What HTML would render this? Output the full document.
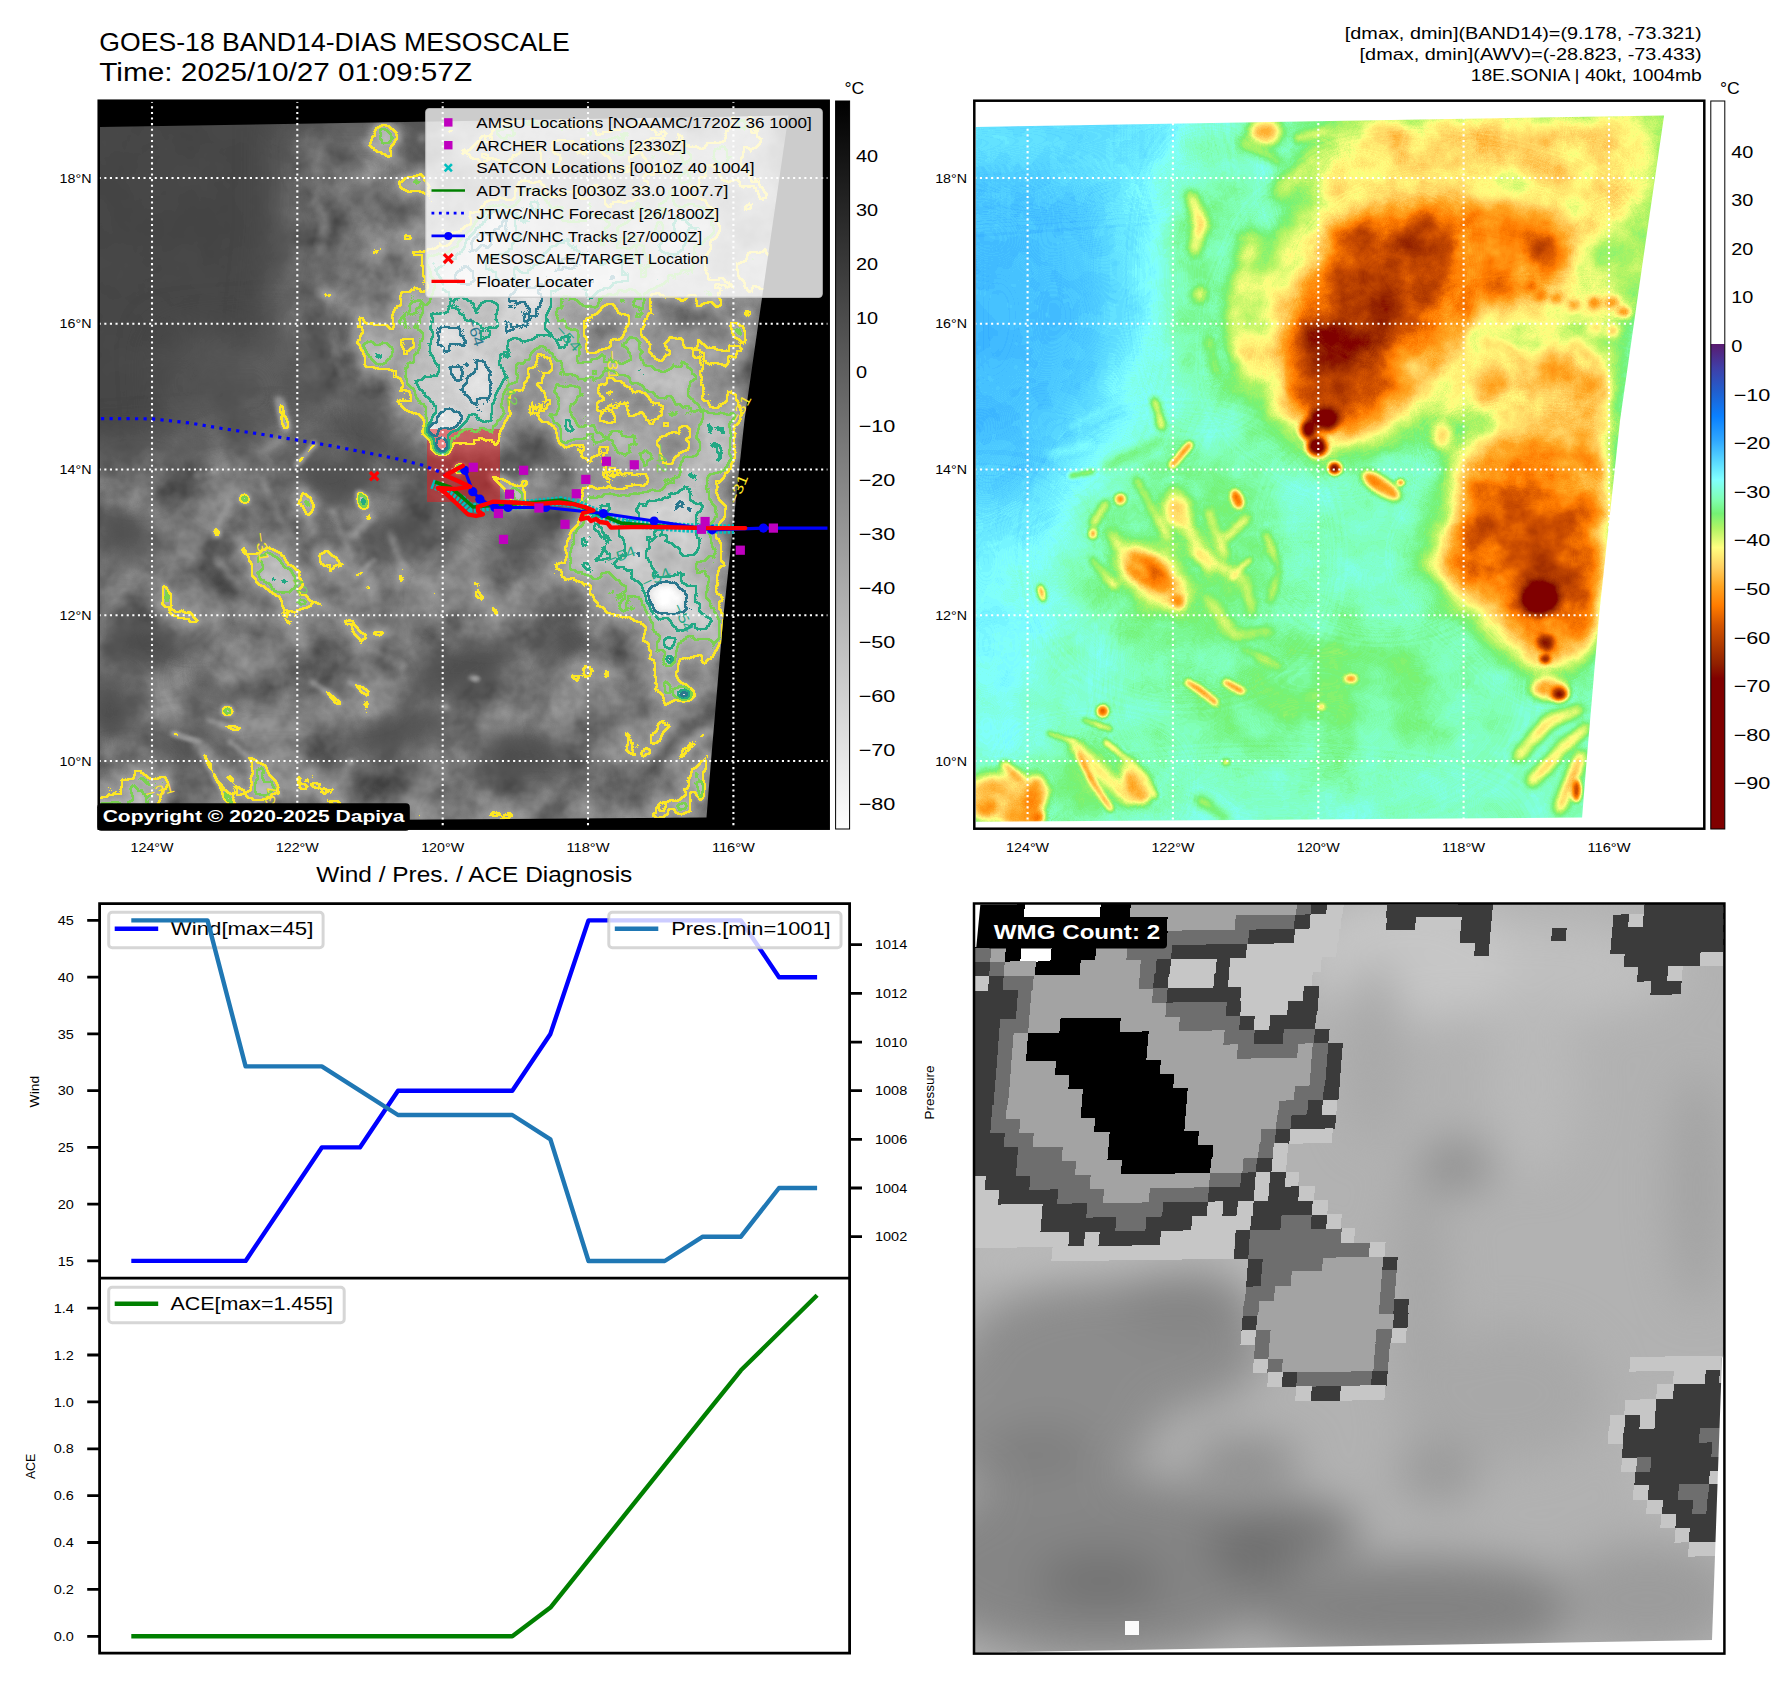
<!DOCTYPE html>
<html><head><meta charset="utf-8"><title>GOES-18 BAND14-DIAS MESOSCALE</title>
<style>html,body{margin:0;padding:0;background:#fff}svg{display:block}text{font-family:"Liberation Sans",sans-serif}</style></head><body>
<svg width="1792" height="1690" viewBox="0 0 1792 1690">
<rect width="1792" height="1690" fill="#fff"/>
<defs>
<filter id="b2" filterUnits="userSpaceOnUse" x="40" y="60" width="850" height="830" color-interpolation-filters="sRGB"><feGaussianBlur stdDeviation="2"/></filter>
<filter id="b3" filterUnits="userSpaceOnUse" x="40" y="60" width="850" height="830" color-interpolation-filters="sRGB"><feGaussianBlur stdDeviation="3"/></filter>
<filter id="b4" filterUnits="userSpaceOnUse" x="40" y="60" width="850" height="830" color-interpolation-filters="sRGB"><feGaussianBlur stdDeviation="4"/></filter>
<filter id="b5" filterUnits="userSpaceOnUse" x="40" y="60" width="850" height="830" color-interpolation-filters="sRGB"><feGaussianBlur stdDeviation="5"/></filter>
<filter id="b6" filterUnits="userSpaceOnUse" x="40" y="60" width="850" height="830" color-interpolation-filters="sRGB"><feGaussianBlur stdDeviation="6"/></filter>
<filter id="b8" filterUnits="userSpaceOnUse" x="40" y="60" width="850" height="830" color-interpolation-filters="sRGB"><feGaussianBlur stdDeviation="8"/></filter>
<filter id="b10" filterUnits="userSpaceOnUse" x="40" y="60" width="850" height="830" color-interpolation-filters="sRGB"><feGaussianBlur stdDeviation="10"/></filter>
<filter id="b12" filterUnits="userSpaceOnUse" x="40" y="60" width="850" height="830" color-interpolation-filters="sRGB"><feGaussianBlur stdDeviation="12"/></filter>
<filter id="b15" filterUnits="userSpaceOnUse" x="40" y="60" width="850" height="830" color-interpolation-filters="sRGB"><feGaussianBlur stdDeviation="15"/></filter>
<filter id="b18" filterUnits="userSpaceOnUse" x="40" y="60" width="850" height="830" color-interpolation-filters="sRGB"><feGaussianBlur stdDeviation="18"/></filter>
<filter id="b22" filterUnits="userSpaceOnUse" x="40" y="60" width="850" height="830" color-interpolation-filters="sRGB"><feGaussianBlur stdDeviation="22"/></filter>
<filter id="b26" filterUnits="userSpaceOnUse" x="40" y="60" width="850" height="830" color-interpolation-filters="sRGB"><feGaussianBlur stdDeviation="26"/></filter>
<filter id="b30" filterUnits="userSpaceOnUse" x="40" y="60" width="850" height="830" color-interpolation-filters="sRGB"><feGaussianBlur stdDeviation="30"/></filter>
<filter id="b36" filterUnits="userSpaceOnUse" x="40" y="60" width="850" height="830" color-interpolation-filters="sRGB"><feGaussianBlur stdDeviation="36"/></filter>
<filter id="b45" filterUnits="userSpaceOnUse" x="40" y="60" width="850" height="830" color-interpolation-filters="sRGB"><feGaussianBlur stdDeviation="45"/></filter>
<filter id="b60" filterUnits="userSpaceOnUse" x="40" y="60" width="850" height="830" color-interpolation-filters="sRGB"><feGaussianBlur stdDeviation="60"/></filter>
<filter id="cm1" filterUnits="userSpaceOnUse" x="40" y="60" width="850" height="830" color-interpolation-filters="sRGB"><feTurbulence type="fractalNoise" baseFrequency="0.02" numOctaves="4" seed="7" result="n"/><feColorMatrix in="n" type="matrix" values="1 0 0 0 0 1 0 0 0 0 1 0 0 0 0 0 0 0 0 1" result="n2"/><feComponentTransfer in="SourceGraphic" result="m"><feFuncR type="table" tableValues="0 0 0 0.12 0.9 1 0.8 0.6 0.5 0.5 0.5"/><feFuncG type="table" tableValues="0 0 0 0.12 0.9 1 0.8 0.6 0.5 0.5 0.5"/><feFuncB type="table" tableValues="0 0 0 0.12 0.9 1 0.8 0.6 0.5 0.5 0.5"/></feComponentTransfer><feComposite in="m" in2="n2" operator="arithmetic" k1="0.55" k2="-0.275" k3="0" k4="0.5" result="p"/><feComposite in="SourceGraphic" in2="p" operator="arithmetic" k1="0" k2="1" k3="1" k4="-0.5" result="f"/><feComponentTransfer in="f"><feFuncR type="linear" slope="1.111"/><feFuncG type="linear" slope="1.111"/><feFuncB type="linear" slope="1.111"/></feComponentTransfer></filter>
<filter id="cm2" filterUnits="userSpaceOnUse" x="40" y="60" width="850" height="830" color-interpolation-filters="sRGB"><feTurbulence type="fractalNoise" baseFrequency="0.025" numOctaves="4" seed="11" result="n"/><feColorMatrix in="n" type="matrix" values="1 0 0 0 0 1 0 0 0 0 1 0 0 0 0 0 0 0 0 1" result="n2"/><feComponentTransfer in="SourceGraphic" result="m"><feFuncR type="table" tableValues="0 0 0 0.1 0.1 0.14 0.55 1 1 1 1"/><feFuncG type="table" tableValues="0 0 0 0.1 0.1 0.14 0.55 1 1 1 1"/><feFuncB type="table" tableValues="0 0 0 0.1 0.1 0.14 0.55 1 1 1 1"/></feComponentTransfer><feComposite in="m" in2="n2" operator="arithmetic" k1="0.12" k2="-0.06" k3="0" k4="0.5" result="p"/><feComposite in="SourceGraphic" in2="p" operator="arithmetic" k1="0" k2="1" k3="1" k4="-0.5" result="f"/><feComponentTransfer in="f"><feFuncR type="table" tableValues="1.000 1.000 1.000 1.000 1.000 1.000 1.000 1.000 1.000 1.000 1.000 1.000 1.000 1.000 1.000 1.000 1.000 1.000 1.000 1.000 1.000 1.000 1.000 1.000 1.000 1.000 1.000 1.000 1.000 1.000 1.000 1.000 1.000 1.000 1.000 1.000 1.000 1.000 1.000 1.000 1.000 1.000 1.000 1.000 1.000 1.000 1.000 1.000 1.000 1.000 0.353 0.332 0.311 0.289 0.268 0.247 0.223 0.198 0.174 0.150 0.125 0.108 0.091 0.074 0.056 0.039 0.069 0.099 0.129 0.158 0.188 0.226 0.264 0.301 0.339 0.376 0.418 0.460 0.502 0.502 0.502 0.502 0.502 0.486 0.471 0.455 0.533 0.612 0.690 0.768 0.845 0.923 1.000 1.000 1.000 1.000 1.000 1.000 1.000 1.000 1.000 1.000 1.000 1.000 1.000 0.958 0.916 0.874 0.831 0.796 0.761 0.725 0.690 0.659 0.627 0.596 0.565 0.544 0.523 0.502 0.502 0.502 0.502 0.502 0.502 0.502 0.502 0.502 0.502 0.502 0.502 0.502 0.502 0.502 0.502 0.502 0.502 0.502 0.502 0.502 0.502 0.502 0.502 0.502 0.502 0.502 0.502 0.502 0.502 0.502 0.502"/><feFuncG type="table" tableValues="1.000 1.000 1.000 1.000 1.000 1.000 1.000 1.000 1.000 1.000 1.000 1.000 1.000 1.000 1.000 1.000 1.000 1.000 1.000 1.000 1.000 1.000 1.000 1.000 1.000 1.000 1.000 1.000 1.000 1.000 1.000 1.000 1.000 1.000 1.000 1.000 1.000 1.000 1.000 1.000 1.000 1.000 1.000 1.000 1.000 1.000 1.000 1.000 1.000 1.000 0.102 0.131 0.160 0.189 0.218 0.247 0.273 0.299 0.325 0.351 0.376 0.402 0.427 0.452 0.477 0.502 0.533 0.565 0.596 0.627 0.659 0.703 0.747 0.791 0.835 0.878 0.919 0.959 1.000 1.000 1.000 1.000 1.000 0.983 0.966 0.949 0.952 0.954 0.957 0.968 0.978 0.989 1.000 0.954 0.908 0.862 0.816 0.773 0.729 0.686 0.643 0.604 0.565 0.525 0.486 0.447 0.408 0.369 0.329 0.304 0.278 0.253 0.227 0.202 0.176 0.151 0.125 0.084 0.042 0.000 0.000 0.000 0.000 0.000 0.000 0.000 0.000 0.000 0.000 0.000 0.000 0.000 0.000 0.000 0.000 0.000 0.000 0.000 0.000 0.000 0.000 0.000 0.000 0.000 0.000 0.000 0.000 0.000 0.000 0.000 0.000"/><feFuncB type="table" tableValues="1.000 1.000 1.000 1.000 1.000 1.000 1.000 1.000 1.000 1.000 1.000 1.000 1.000 1.000 1.000 1.000 1.000 1.000 1.000 1.000 1.000 1.000 1.000 1.000 1.000 1.000 1.000 1.000 1.000 1.000 1.000 1.000 1.000 1.000 1.000 1.000 1.000 1.000 1.000 1.000 1.000 1.000 1.000 1.000 1.000 1.000 1.000 1.000 1.000 1.000 0.431 0.477 0.522 0.568 0.613 0.659 0.690 0.722 0.753 0.784 0.816 0.853 0.889 0.926 0.963 1.000 1.000 1.000 1.000 1.000 1.000 1.000 1.000 1.000 1.000 1.000 1.000 1.000 1.000 0.926 0.853 0.779 0.706 0.622 0.539 0.455 0.434 0.413 0.392 0.420 0.447 0.475 0.502 0.471 0.439 0.408 0.376 0.314 0.251 0.188 0.125 0.094 0.063 0.031 0.000 0.000 0.000 0.000 0.000 0.000 0.000 0.000 0.000 0.000 0.000 0.000 0.000 0.000 0.000 0.000 0.000 0.000 0.000 0.000 0.000 0.000 0.000 0.000 0.000 0.000 0.000 0.000 0.000 0.000 0.000 0.000 0.000 0.000 0.000 0.000 0.000 0.000 0.000 0.000 0.000 0.000 0.000 0.000 0.000 0.000 0.000"/></feComponentTransfer></filter>
<filter id="ct31" filterUnits="userSpaceOnUse" x="40" y="60" width="850" height="830" color-interpolation-filters="sRGB"><feTurbulence type="fractalNoise" baseFrequency="0.02" numOctaves="4" seed="7" result="n"/><feColorMatrix in="n" type="matrix" values="1 0 0 0 0 1 0 0 0 0 1 0 0 0 0 0 0 0 0 1" result="n2"/><feComponentTransfer in="SourceGraphic" result="m"><feFuncR type="table" tableValues="0 0 0 0.12 0.9 1 0.8 0.6 0.5 0.5 0.5"/><feFuncG type="table" tableValues="0 0 0 0.12 0.9 1 0.8 0.6 0.5 0.5 0.5"/><feFuncB type="table" tableValues="0 0 0 0.12 0.9 1 0.8 0.6 0.5 0.5 0.5"/></feComponentTransfer><feComposite in="m" in2="n2" operator="arithmetic" k1="0.55" k2="-0.275" k3="0" k4="0.5" result="p"/><feComposite in="SourceGraphic" in2="p" operator="arithmetic" k1="0" k2="1" k3="1" k4="-0.5" result="f"/><feColorMatrix in="f" type="matrix" values="0 0 0 0 0.992 0 0 0 0 0.906 0 0 0 0 0.145 1 0 0 0 0" result="a"/><feComponentTransfer in="a" result="s"><feFuncA type="discrete" tableValues="0 0 0 0 0 0 0 0 0 0 0 0 0 0 0 0 0 0 0 0 0 0 0 0 0 0 0 0 0 0 0 0 0 0 0 0 0 0 0 0 0 0 0 0 0 0 0 0 0 0 0 0 0 0 0 0 0 0 0 0 0 0 0 0 0 0 0 0 0 0 0 0 0 0 0 0 0 0 0 0 0 1 1 1 1 1 1 1 1 1 1 1 1 1 1 1 1 1 1 1 1 1 1 1 1 1 1 1 1 1 1 1 1 1 1 1 1 1 1 1 1 1 1 1 1 1 1 1 1 1 1 1 1 1 1 1 1 1 1 1 1 1 1 1 1 1 1 1 1 1"/></feComponentTransfer><feMorphology in="s" operator="erode" radius="2" result="e"/><feComposite in="s" in2="e" operator="out"/></filter>
<filter id="ct42" filterUnits="userSpaceOnUse" x="40" y="60" width="850" height="830" color-interpolation-filters="sRGB"><feTurbulence type="fractalNoise" baseFrequency="0.02" numOctaves="4" seed="7" result="n"/><feColorMatrix in="n" type="matrix" values="1 0 0 0 0 1 0 0 0 0 1 0 0 0 0 0 0 0 0 1" result="n2"/><feComponentTransfer in="SourceGraphic" result="m"><feFuncR type="table" tableValues="0 0 0 0.12 0.9 1 0.8 0.6 0.5 0.5 0.5"/><feFuncG type="table" tableValues="0 0 0 0.12 0.9 1 0.8 0.6 0.5 0.5 0.5"/><feFuncB type="table" tableValues="0 0 0 0.12 0.9 1 0.8 0.6 0.5 0.5 0.5"/></feComponentTransfer><feComposite in="m" in2="n2" operator="arithmetic" k1="0.55" k2="-0.275" k3="0" k4="0.5" result="p"/><feComposite in="SourceGraphic" in2="p" operator="arithmetic" k1="0" k2="1" k3="1" k4="-0.5" result="f"/><feColorMatrix in="f" type="matrix" values="0 0 0 0 0.478 0 0 0 0 0.820 0 0 0 0 0.318 1 0 0 0 0" result="a"/><feComponentTransfer in="a" result="s"><feFuncA type="discrete" tableValues="0 0 0 0 0 0 0 0 0 0 0 0 0 0 0 0 0 0 0 0 0 0 0 0 0 0 0 0 0 0 0 0 0 0 0 0 0 0 0 0 0 0 0 0 0 0 0 0 0 0 0 0 0 0 0 0 0 0 0 0 0 0 0 0 0 0 0 0 0 0 0 0 0 0 0 0 0 0 0 0 0 0 0 0 0 0 0 0 0 0 0 0 1 1 1 1 1 1 1 1 1 1 1 1 1 1 1 1 1 1 1 1 1 1 1 1 1 1 1 1 1 1 1 1 1 1 1 1 1 1 1 1 1 1 1 1 1 1 1 1 1 1 1 1 1 1 1 1 1 1"/></feComponentTransfer><feMorphology in="s" operator="erode" radius="2" result="e"/><feComposite in="s" in2="e" operator="out"/></filter>
<filter id="ct54" filterUnits="userSpaceOnUse" x="40" y="60" width="850" height="830" color-interpolation-filters="sRGB"><feTurbulence type="fractalNoise" baseFrequency="0.02" numOctaves="4" seed="7" result="n"/><feColorMatrix in="n" type="matrix" values="1 0 0 0 0 1 0 0 0 0 1 0 0 0 0 0 0 0 0 1" result="n2"/><feComponentTransfer in="SourceGraphic" result="m"><feFuncR type="table" tableValues="0 0 0 0.12 0.9 1 0.8 0.6 0.5 0.5 0.5"/><feFuncG type="table" tableValues="0 0 0 0.12 0.9 1 0.8 0.6 0.5 0.5 0.5"/><feFuncB type="table" tableValues="0 0 0 0.12 0.9 1 0.8 0.6 0.5 0.5 0.5"/></feComponentTransfer><feComposite in="m" in2="n2" operator="arithmetic" k1="0.55" k2="-0.275" k3="0" k4="0.5" result="p"/><feComposite in="SourceGraphic" in2="p" operator="arithmetic" k1="0" k2="1" k3="1" k4="-0.5" result="f"/><feColorMatrix in="f" type="matrix" values="0 0 0 0 0.133 0 0 0 0 0.659 0 0 0 0 0.518 1 0 0 0 0" result="a"/><feComponentTransfer in="a" result="s"><feFuncA type="discrete" tableValues="0 0 0 0 0 0 0 0 0 0 0 0 0 0 0 0 0 0 0 0 0 0 0 0 0 0 0 0 0 0 0 0 0 0 0 0 0 0 0 0 0 0 0 0 0 0 0 0 0 0 0 0 0 0 0 0 0 0 0 0 0 0 0 0 0 0 0 0 0 0 0 0 0 0 0 0 0 0 0 0 0 0 0 0 0 0 0 0 0 0 0 0 0 0 0 0 0 0 0 0 0 0 0 0 1 1 1 1 1 1 1 1 1 1 1 1 1 1 1 1 1 1 1 1 1 1 1 1 1 1 1 1 1 1 1 1 1 1 1 1 1 1 1 1 1 1 1 1 1 1"/></feComponentTransfer><feMorphology in="s" operator="erode" radius="2" result="e"/><feComposite in="s" in2="e" operator="out"/></filter>
<filter id="ct65" filterUnits="userSpaceOnUse" x="40" y="60" width="850" height="830" color-interpolation-filters="sRGB"><feTurbulence type="fractalNoise" baseFrequency="0.02" numOctaves="4" seed="7" result="n"/><feColorMatrix in="n" type="matrix" values="1 0 0 0 0 1 0 0 0 0 1 0 0 0 0 0 0 0 0 1" result="n2"/><feComponentTransfer in="SourceGraphic" result="m"><feFuncR type="table" tableValues="0 0 0 0.12 0.9 1 0.8 0.6 0.5 0.5 0.5"/><feFuncG type="table" tableValues="0 0 0 0.12 0.9 1 0.8 0.6 0.5 0.5 0.5"/><feFuncB type="table" tableValues="0 0 0 0.12 0.9 1 0.8 0.6 0.5 0.5 0.5"/></feComponentTransfer><feComposite in="m" in2="n2" operator="arithmetic" k1="0.55" k2="-0.275" k3="0" k4="0.5" result="p"/><feComposite in="SourceGraphic" in2="p" operator="arithmetic" k1="0" k2="1" k3="1" k4="-0.5" result="f"/><feColorMatrix in="f" type="matrix" values="0 0 0 0 0.165 0 0 0 0 0.471 0 0 0 0 0.557 1 0 0 0 0" result="a"/><feComponentTransfer in="a" result="s"><feFuncA type="discrete" tableValues="0 0 0 0 0 0 0 0 0 0 0 0 0 0 0 0 0 0 0 0 0 0 0 0 0 0 0 0 0 0 0 0 0 0 0 0 0 0 0 0 0 0 0 0 0 0 0 0 0 0 0 0 0 0 0 0 0 0 0 0 0 0 0 0 0 0 0 0 0 0 0 0 0 0 0 0 0 0 0 0 0 0 0 0 0 0 0 0 0 0 0 0 0 0 0 0 0 0 0 0 0 0 0 0 0 0 0 0 0 0 0 0 0 0 1 1 1 1 1 1 1 1 1 1 1 1 1 1 1 1 1 1 1 1 1 1 1 1 1 1 1 1 1 1 1 1 1 1 1 1"/></feComponentTransfer><feMorphology in="s" operator="erode" radius="2" result="e"/><feComposite in="s" in2="e" operator="out"/></filter>
<clipPath id="dc"><polygon points="100.0,127.0 788.5,115.5 766.0,270.0 744.5,420.0 723.5,615.0 711.0,761.0 706.5,817.5 100.0,821.8"/></clipPath>
<clipPath id="ax1"><rect x="98.7" y="100.7" width="730.0" height="728.0"/></clipPath>
<linearGradient id="cb1" x1="0" y1="0" x2="0" y2="1"><stop offset="0" stop-color="#000"/><stop offset="1" stop-color="#fff"/></linearGradient>
<linearGradient id="cb2" x1="0" y1="0" x2="0" y2="1"><stop offset="0.0000" stop-color="#ffffff"/><stop offset="0.3333" stop-color="#ffffff"/><stop offset="0.3333" stop-color="#5a1a6e"/><stop offset="0.3667" stop-color="#3f3fa8"/><stop offset="0.4000" stop-color="#2060d0"/><stop offset="0.4333" stop-color="#0a80ff"/><stop offset="0.4667" stop-color="#30a8ff"/><stop offset="0.5000" stop-color="#60e0ff"/><stop offset="0.5200" stop-color="#80ffff"/><stop offset="0.5467" stop-color="#80ffb4"/><stop offset="0.5667" stop-color="#74f274"/><stop offset="0.5867" stop-color="#b0f464"/><stop offset="0.6133" stop-color="#ffff80"/><stop offset="0.6400" stop-color="#ffd060"/><stop offset="0.6667" stop-color="#ffa420"/><stop offset="0.6933" stop-color="#ff7c00"/><stop offset="0.7200" stop-color="#d45400"/><stop offset="0.7467" stop-color="#b03a00"/><stop offset="0.7733" stop-color="#902000"/><stop offset="0.7933" stop-color="#800000"/><stop offset="1.0000" stop-color="#800000"/></linearGradient>
<filter id="wb" filterUnits="userSpaceOnUse" x="900" y="850" width="900" height="860" color-interpolation-filters="sRGB"><feGaussianBlur stdDeviation="22"/></filter>
<clipPath id="wmgclip"><rect x="974" y="903.5" width="750" height="750"/></clipPath>
</defs>
<rect x="98.7" y="100.7" width="730.0" height="728.0" fill="#000"/>
<defs><g id="fA">
<rect x="40" y="60" width="850" height="830" fill="#3f3f3f"/>
<polygon points="283.8,116.6 430.3,116.6 403.6,267.5 377.0,400.6 297.2,431.6 270.5,356.2 283.8,223.1" fill="#5f5f5f" filter="url(#b22)"/>
<polyline points="314.9,156.5 350.4,223.1 332.6,320.7" fill="none" stroke="#696969" stroke-width="22.2" stroke-linecap="round" stroke-linejoin="round" filter="url(#b12)"/>
<polyline points="368.1,178.7 394.8,276.3" fill="none" stroke="#696969" stroke-width="17.7" stroke-linecap="round" stroke-linejoin="round" filter="url(#b8)"/>
<polygon points="164.1,338.4 297.2,329.6 314.9,444.9 172.9,453.8" fill="#4e4e4e" filter="url(#b22)"/>
<polygon points="62.0,453.8 306.0,436.1 439.1,471.5 661.0,666.8 749.7,666.8 749.7,866.4 62.0,866.4" fill="#666666" filter="url(#b22)"/>
<ellipse cx="124.1" cy="533.7" rx="26.6" ry="26.6" fill="#464646" filter="url(#b12)"/>
<ellipse cx="150.7" cy="644.6" rx="44.4" ry="26.6" fill="#464646" filter="url(#b12)"/>
<ellipse cx="332.6" cy="480.4" rx="35.5" ry="22.2" fill="#464646" filter="url(#b12)"/>
<ellipse cx="394.8" cy="533.7" rx="22.2" ry="22.2" fill="#464646" filter="url(#b12)"/>
<ellipse cx="217.3" cy="680.1" rx="31.1" ry="17.7" fill="#464646" filter="url(#b12)"/>
<ellipse cx="465.7" cy="666.8" rx="53.2" ry="22.2" fill="#464646" transform="rotate(-20 465.7 666.8)" filter="url(#b12)"/>
<ellipse cx="186.2" cy="746.6" rx="35.5" ry="17.7" fill="#464646" filter="url(#b12)"/>
<ellipse cx="394.8" cy="733.3" rx="53.2" ry="17.7" fill="#464646" transform="rotate(-15 394.8 733.3)" filter="url(#b12)"/>
<ellipse cx="527.9" cy="755.5" rx="44.4" ry="26.6" fill="#464646" filter="url(#b12)"/>
<ellipse cx="572.2" cy="644.6" rx="26.6" ry="26.6" fill="#464646" filter="url(#b12)"/>
<ellipse cx="110.8" cy="711.1" rx="22.2" ry="35.5" fill="#464646" filter="url(#b12)"/>
<ellipse cx="195.1" cy="613.5" rx="35.5" ry="26.6" fill="#7a7a7a" filter="url(#b12)"/>
<ellipse cx="332.6" cy="591.3" rx="44.4" ry="26.6" fill="#7a7a7a" filter="url(#b12)"/>
<ellipse cx="261.7" cy="666.8" rx="53.2" ry="22.2" fill="#7e7e7e" filter="url(#b12)"/>
<ellipse cx="350.4" cy="688.9" rx="44.4" ry="22.2" fill="#7a7a7a" filter="url(#b12)"/>
<ellipse cx="483.5" cy="600.2" rx="53.2" ry="35.5" fill="#777777" filter="url(#b12)"/>
<ellipse cx="283.8" cy="782.1" rx="66.5" ry="22.2" fill="#7a7a7a" filter="url(#b12)"/>
<ellipse cx="128.6" cy="782.1" rx="35.5" ry="26.6" fill="#818181" filter="url(#b12)"/>
<ellipse cx="594.4" cy="711.1" rx="44.4" ry="53.2" fill="#777777" filter="url(#b12)"/>
<ellipse cx="527.9" cy="822.0" rx="88.7" ry="22.2" fill="#777777" filter="url(#b12)"/>
<ellipse cx="230.6" cy="489.3" rx="26.6" ry="17.7" fill="#747474" filter="url(#b12)"/>
<ellipse cx="137.4" cy="480.4" rx="26.6" ry="13.3" fill="#6d6d6d" filter="url(#b12)"/>
<ellipse cx="527.9" cy="489.3" rx="48.8" ry="31.1" fill="#747474" filter="url(#b15)"/>
<polygon points="638.8,666.8 718.6,666.8 709.8,817.6 638.8,817.6" fill="#777777" filter="url(#b18)"/>
<polygon points="390.3,409.4 385.9,356.2 394.8,303.0 416.9,258.6 452.4,223.1 505.7,205.4 572.2,214.2 616.6,236.4 749.7,223.1 758.6,311.8 740.8,444.9 594.4,444.9 527.9,436.1 496.8,444.9 461.3,458.2 421.4,436.1" fill="#7e7e7e" filter="url(#b18)"/>
<polygon points="448.0,116.6 794.0,107.7 776.3,236.4 749.7,320.7 594.4,338.4 474.6,236.4 439.1,178.7" fill="#8e8e8e" filter="url(#b26)"/>
<ellipse cx="643.2" cy="240.8" rx="66.5" ry="39.9" fill="#9d9d9d" filter="url(#b15)"/>
<ellipse cx="616.6" cy="152.1" rx="110.9" ry="26.6" fill="#939393" filter="url(#b15)"/>
<polyline points="377.0,236.4 361.5,298.5 368.1,356.2" fill="none" stroke="#888888" stroke-width="17.7" stroke-linecap="round" stroke-linejoin="round" filter="url(#b8)"/>
<polyline points="403.6,192.0 439.1,161.0" fill="none" stroke="#888888" stroke-width="17.7" stroke-linecap="round" stroke-linejoin="round" filter="url(#b8)"/>
<ellipse cx="390.3" cy="132.1" rx="15.5" ry="13.3" fill="#989898" filter="url(#b6)"/>
<ellipse cx="505.7" cy="145.5" rx="26.6" ry="22.2" fill="#969696" filter="url(#b8)"/>
<ellipse cx="566.9" cy="161.0" rx="22.2" ry="26.6" fill="#939393" filter="url(#b10)"/>
<ellipse cx="661.0" cy="147.7" rx="35.5" ry="17.7" fill="#919191" filter="url(#b12)"/>
<ellipse cx="740.8" cy="138.8" rx="26.6" ry="22.2" fill="#8e8e8e" filter="url(#b12)"/>
<ellipse cx="638.8" cy="200.9" rx="22.2" ry="15.5" fill="#818181" filter="url(#b12)"/>
<ellipse cx="483.5" cy="185.4" rx="17.7" ry="13.3" fill="#818181" filter="url(#b10)"/>
<ellipse cx="705.3" cy="178.7" rx="31.1" ry="17.7" fill="#919191" filter="url(#b10)"/>
<polyline points="314.9,196.5 326.0,223.1 319.3,249.7" fill="none" stroke="#8e8e8e" stroke-width="9.8" stroke-linecap="round" stroke-linejoin="round" filter="url(#b4)"/>
<ellipse cx="323.8" cy="294.1" rx="8.0" ry="6.2" fill="#8c8c8c" filter="url(#b4)"/>
<polyline points="332.6,338.4 341.5,373.9" fill="none" stroke="#888888" stroke-width="6.2" stroke-linecap="round" stroke-linejoin="round" filter="url(#b4)"/>
<polygon points="361.5,378.4 368.1,303.0 403.6,232.0 470.2,178.7 550.0,169.9 616.6,178.7 683.1,196.5 727.5,232.0 723.1,285.2 678.7,307.4 629.9,325.1 598.8,360.6 576.7,405.0 536.7,431.6 501.2,449.4 461.3,462.7 421.4,440.5 385.9,413.9" fill="#8c8c8c" filter="url(#b18)"/>
<polygon points="403.6,369.5 421.4,303.0 452.4,245.3 496.8,209.8 550.0,196.5 594.4,203.1 643.2,212.0 687.6,223.1 707.5,251.9 694.2,278.6 656.5,285.2 621.0,300.7 590.0,331.8 567.8,367.3 532.3,396.1 499.0,420.5 465.7,433.8 439.1,429.4 412.5,402.8" fill="#a4a4a4" filter="url(#b12)"/>
<polygon points="414.7,365.1 436.9,311.8 470.2,263.0 510.1,232.0 550.0,223.1 574.4,238.6 567.8,276.3 545.6,311.8 527.9,347.3 505.7,382.8 474.6,409.4 439.1,409.4 417.8,391.7" fill="#b5b5b5" filter="url(#b10)"/>
<ellipse cx="459.1" cy="356.2" rx="27.5" ry="42.1" fill="#c3c3c3" transform="rotate(15 459.1 356.2)" filter="url(#b10)"/>
<ellipse cx="532.3" cy="291.9" rx="17.7" ry="37.7" fill="#bcbcbc" transform="rotate(20 532.3 291.9)" filter="url(#b8)"/>
<ellipse cx="485.7" cy="258.6" rx="15.5" ry="31.1" fill="#b9b9b9" transform="rotate(25 485.7 258.6)" filter="url(#b8)"/>
<ellipse cx="672.0" cy="253.3" rx="15.1" ry="15.1" fill="#b0b0b0" filter="url(#b6)"/>
<ellipse cx="448.9" cy="419.2" rx="14.2" ry="12.4" fill="#d1d1d1" filter="url(#b4)"/>
<ellipse cx="432.9" cy="429.8" rx="7.5" ry="8.9" fill="#d3d3d3" filter="url(#b3)"/>
<ellipse cx="441.8" cy="445.8" rx="9.8" ry="9.8" fill="#cfcfcf" filter="url(#b3)"/>
<ellipse cx="459.5" cy="468.4" rx="6.2" ry="6.2" fill="#c8c8c8" filter="url(#b2)"/>
<ellipse cx="654.3" cy="285.2" rx="6.7" ry="5.3" fill="#a4a4a4" filter="url(#b3)"/>
<ellipse cx="665.4" cy="296.3" rx="6.7" ry="5.3" fill="#a4a4a4" filter="url(#b3)"/>
<ellipse cx="680.9" cy="298.5" rx="6.7" ry="5.3" fill="#a4a4a4" filter="url(#b3)"/>
<ellipse cx="698.7" cy="305.2" rx="6.7" ry="5.3" fill="#a4a4a4" filter="url(#b3)"/>
<ellipse cx="718.6" cy="303.0" rx="6.7" ry="5.3" fill="#a4a4a4" filter="url(#b3)"/>
<ellipse cx="736.4" cy="302.1" rx="6.7" ry="5.3" fill="#a4a4a4" filter="url(#b3)"/>
<ellipse cx="747.5" cy="311.8" rx="6.7" ry="5.3" fill="#a4a4a4" filter="url(#b3)"/>
<ellipse cx="718.6" cy="329.6" rx="6.7" ry="5.3" fill="#a4a4a4" filter="url(#b3)"/>
<ellipse cx="736.4" cy="331.8" rx="6.7" ry="5.3" fill="#a4a4a4" filter="url(#b3)"/>
<polygon points="594.4,320.7 740.8,311.8 736.4,444.9 585.5,444.9 572.2,378.4" fill="#8c8c8c" filter="url(#b18)"/>
<ellipse cx="674.3" cy="373.9" rx="20.0" ry="26.6" fill="#9d9d9d" filter="url(#b10)"/>
<ellipse cx="616.6" cy="396.1" rx="13.3" ry="22.2" fill="#989898" filter="url(#b8)"/>
<ellipse cx="714.2" cy="400.6" rx="17.7" ry="26.6" fill="#989898" filter="url(#b8)"/>
<ellipse cx="745.2" cy="258.6" rx="24.4" ry="35.5" fill="#808080" filter="url(#b12)"/>
<ellipse cx="607.7" cy="431.6" rx="20.0" ry="12.4" fill="#808080" filter="url(#b8)"/>
<ellipse cx="567.8" cy="436.1" rx="9.8" ry="12.4" fill="#969696" filter="url(#b4)"/>
<polygon points="572.2,444.9 638.8,436.1 705.3,440.5 736.4,467.1 731.9,533.7 725.3,600.2 716.4,662.3 674.3,680.1 638.8,660.1 603.3,624.6 563.3,589.1 541.2,555.8 570.0,511.5 574.4,476.0" fill="#8c8c8c" filter="url(#b15)"/>
<polygon points="585.5,458.2 643.2,449.4 705.3,453.8 729.7,480.4 727.5,533.7 723.1,591.3 712.0,644.6 678.7,662.3 647.6,644.6 612.2,609.1 576.7,573.6 565.6,551.4 585.5,511.5 587.7,480.4" fill="#a2a2a2" filter="url(#b10)"/>
<polygon points="598.8,489.3 661.0,480.4 709.8,498.2 718.6,555.8 709.8,613.5 674.3,631.3 634.3,609.1 603.3,573.6 590.0,533.7" fill="#b0b0b0" filter="url(#b10)"/>
<ellipse cx="674.3" cy="688.9" rx="17.7" ry="11.1" fill="#939393" filter="url(#b4)"/>
<ellipse cx="669.8" cy="440.5" rx="62.1" ry="22.2" fill="#989898" filter="url(#b12)"/>
<ellipse cx="705.3" cy="458.2" rx="26.6" ry="17.7" fill="#a2a2a2" filter="url(#b8)"/>
<ellipse cx="665.4" cy="598.0" rx="18.6" ry="16.0" fill="#d3d3d3" filter="url(#b4)"/>
<ellipse cx="669.8" cy="642.4" rx="8.0" ry="8.0" fill="#c0c0c0" filter="url(#b3)"/>
<ellipse cx="669.8" cy="658.8" rx="5.3" ry="4.4" fill="#bcbcbc" filter="url(#b2)"/>
<ellipse cx="684.0" cy="694.3" rx="7.5" ry="6.2" fill="#cccccc" filter="url(#b3)"/>
<polyline points="643.2,755.5 674.3,720.0 700.9,711.1" fill="none" stroke="#919191" stroke-width="11.5" stroke-linecap="round" stroke-linejoin="round" filter="url(#b4)"/>
<polyline points="656.5,782.1 687.6,746.6 709.8,728.9" fill="none" stroke="#969696" stroke-width="9.8" stroke-linecap="round" stroke-linejoin="round" filter="url(#b4)"/>
<polyline points="683.1,808.7 698.7,773.2 705.3,755.5" fill="none" stroke="#969696" stroke-width="9.8" stroke-linecap="round" stroke-linejoin="round" filter="url(#b4)"/>
<ellipse cx="700.9" cy="791.0" rx="4.4" ry="11.1" fill="#a9a9a9" filter="url(#b2)"/>
<ellipse cx="505.7" cy="485.7" rx="21.3" ry="8.0" fill="#a4a4a4" transform="rotate(35 505.7 485.7)" filter="url(#b3)"/>
<ellipse cx="524.8" cy="482.6" rx="3.5" ry="2.7" fill="#b0b0b0" filter="url(#b2)"/>
<ellipse cx="361.5" cy="499.1" rx="5.3" ry="9.8" fill="#a4a4a4" transform="rotate(-20 361.5 499.1)" filter="url(#b2)"/>
<ellipse cx="244.8" cy="499.1" rx="5.3" ry="5.3" fill="#a9a9a9" filter="url(#b2)"/>
<ellipse cx="217.3" cy="533.7" rx="4.0" ry="5.3" fill="#9d9d9d" filter="url(#b2)"/>
<ellipse cx="166.3" cy="593.5" rx="3.5" ry="8.9" fill="#989898" transform="rotate(-15 166.3 593.5)" filter="url(#b2)"/>
<ellipse cx="227.1" cy="711.1" rx="5.8" ry="5.8" fill="#a9a9a9" filter="url(#b2)"/>
<polyline points="312.7,682.3 326.0,691.2 339.3,702.2" fill="none" stroke="#9a9a9a" stroke-width="6.2" stroke-linecap="round" stroke-linejoin="round" filter="url(#b2)"/>
<polyline points="350.4,682.3 365.9,691.2" fill="none" stroke="#9a9a9a" stroke-width="6.2" stroke-linecap="round" stroke-linejoin="round" filter="url(#b2)"/>
<ellipse cx="475.5" cy="678.7" rx="6.2" ry="4.0" fill="#9d9d9d" filter="url(#b2)"/>
<ellipse cx="445.8" cy="706.7" rx="3.5" ry="2.7" fill="#969696" filter="url(#b2)"/>
<ellipse cx="350.4" cy="762.1" rx="3.5" ry="2.7" fill="#939393" filter="url(#b2)"/>
<ellipse cx="277.6" cy="575.8" rx="42.1" ry="22.2" fill="#919191" transform="rotate(40 277.6 575.8)" filter="url(#b8)"/>
<ellipse cx="274.1" cy="572.7" rx="27.5" ry="13.3" fill="#ababab" transform="rotate(40 274.1 572.7)" filter="url(#b4)"/>
<ellipse cx="301.6" cy="600.2" rx="8.0" ry="5.3" fill="#a4a4a4" transform="rotate(35 301.6 600.2)" filter="url(#b3)"/>
<polyline points="235.0,533.7 252.8,560.3 270.5,573.6" fill="none" stroke="#8c8c8c" stroke-width="7.1" stroke-linecap="round" stroke-linejoin="round" filter="url(#b4)"/>
<polyline points="297.2,489.3 314.9,533.7 332.6,569.1" fill="none" stroke="#8c8c8c" stroke-width="7.1" stroke-linecap="round" stroke-linejoin="round" filter="url(#b4)"/>
<polyline points="314.9,551.4 368.1,578.0 377.0,613.5" fill="none" stroke="#8c8c8c" stroke-width="6.2" stroke-linecap="round" stroke-linejoin="round" filter="url(#b4)"/>
<polyline points="332.6,600.2 359.3,635.7 394.8,631.3" fill="none" stroke="#8c8c8c" stroke-width="7.1" stroke-linecap="round" stroke-linejoin="round" filter="url(#b4)"/>
<polyline points="350.4,538.1 370.4,518.1" fill="none" stroke="#8c8c8c" stroke-width="6.2" stroke-linecap="round" stroke-linejoin="round" filter="url(#b3)"/>
<polyline points="230.6,467.1 257.2,453.8 283.8,440.5" fill="none" stroke="#696969" stroke-width="6.2" stroke-linecap="round" stroke-linejoin="round" filter="url(#b4)"/>
<polyline points="279.4,400.6 286.1,427.2" fill="none" stroke="#919191" stroke-width="6.2" stroke-linecap="round" stroke-linejoin="round" filter="url(#b3)"/>
<polyline points="195.1,476.0 217.3,471.5" fill="none" stroke="#808080" stroke-width="4.4" stroke-linecap="round" stroke-linejoin="round" filter="url(#b2)"/>
<ellipse cx="124.1" cy="799.8" rx="39.9" ry="26.6" fill="#939393" filter="url(#b8)"/>
<ellipse cx="110.8" cy="808.7" rx="11.1" ry="8.0" fill="#a6a6a6" filter="url(#b4)"/>
<ellipse cx="159.6" cy="795.4" rx="11.1" ry="20.0" fill="#a2a2a2" transform="rotate(10 159.6 795.4)" filter="url(#b4)"/>
<ellipse cx="161.8" cy="817.6" rx="6.7" ry="6.7" fill="#ababab" filter="url(#b3)"/>
<polyline points="199.6,746.6 226.2,773.2 252.8,799.8" fill="none" stroke="#8e8e8e" stroke-width="9.8" stroke-linecap="round" stroke-linejoin="round" filter="url(#b4)"/>
<polyline points="252.8,764.4 270.5,791.0" fill="none" stroke="#939393" stroke-width="13.3" stroke-linecap="round" stroke-linejoin="round" filter="url(#b4)"/>
<polyline points="208.4,720.0 235.0,728.9" fill="none" stroke="#8a8a8a" stroke-width="4.4" stroke-linecap="round" stroke-linejoin="round" filter="url(#b2)"/>
<polyline points="323.8,799.8 350.4,817.6" fill="none" stroke="#8a8a8a" stroke-width="8.0" stroke-linecap="round" stroke-linejoin="round" filter="url(#b4)"/>
<ellipse cx="510.1" cy="276.3" rx="57.7" ry="55.5" fill="#b7b7b7" filter="url(#b15)"/>
<ellipse cx="554.5" cy="249.7" rx="26.6" ry="31.1" fill="#b5b5b5" filter="url(#b12)"/>
<polyline points="296.7,464.9 314.0,444.9" fill="none" stroke="#989898" stroke-width="6.2" stroke-linecap="round" stroke-linejoin="round" filter="url(#b2)"/>
<ellipse cx="301.6" cy="507.5" rx="13.3" ry="17.7" fill="#8e8e8e" filter="url(#b6)"/>
<polyline points="356.6,578.0 368.1,564.7 374.4,559.8" fill="none" stroke="#8c8c8c" stroke-width="4.4" stroke-linecap="round" stroke-linejoin="round" filter="url(#b2)"/>
<polyline points="394.8,373.9 410.3,400.6" fill="none" stroke="#8a8a8a" stroke-width="5.3" stroke-linecap="round" stroke-linejoin="round" filter="url(#b3)"/>
<polyline points="230.6,502.6 217.3,524.8" fill="none" stroke="#8c8c8c" stroke-width="5.3" stroke-linecap="round" stroke-linejoin="round" filter="url(#b3)"/>
<polyline points="261.7,480.4 275.0,507.0 292.7,538.1" fill="none" stroke="#8a8a8a" stroke-width="5.3" stroke-linecap="round" stroke-linejoin="round" filter="url(#b3)"/>
<polyline points="195.1,427.2 230.6,409.4 261.7,396.1" fill="none" stroke="#555555" stroke-width="4.4" stroke-linecap="round" stroke-linejoin="round" filter="url(#b3)"/>
<polyline points="172.9,453.8 212.9,444.9" fill="none" stroke="#555555" stroke-width="4.4" stroke-linecap="round" stroke-linejoin="round" filter="url(#b3)"/>
<polyline points="217.3,560.3 239.5,586.9" fill="none" stroke="#8e8e8e" stroke-width="5.3" stroke-linecap="round" stroke-linejoin="round" filter="url(#b3)"/>
<polyline points="332.6,511.5 350.4,555.8" fill="none" stroke="#8a8a8a" stroke-width="5.3" stroke-linecap="round" stroke-linejoin="round" filter="url(#b3)"/>
<polyline points="390.3,533.7 403.6,569.1 394.8,600.2" fill="none" stroke="#888888" stroke-width="4.4" stroke-linecap="round" stroke-linejoin="round" filter="url(#b3)"/>
<polyline points="368.1,649.0 403.6,666.8" fill="none" stroke="#888888" stroke-width="4.4" stroke-linecap="round" stroke-linejoin="round" filter="url(#b3)"/>
<ellipse cx="261.7" cy="786.5" rx="12.4" ry="17.7" fill="#9d9d9d" transform="rotate(-20 261.7 786.5)" filter="url(#b4)"/>
<polyline points="204.0,755.5 217.3,782.1 235.0,808.7" fill="none" stroke="#9d9d9d" stroke-width="5.3" stroke-linecap="round" stroke-linejoin="round" filter="url(#b2)"/>
<polyline points="230.6,742.2 257.2,764.4 279.4,795.4" fill="none" stroke="#939393" stroke-width="4.4" stroke-linecap="round" stroke-linejoin="round" filter="url(#b2)"/>
<polyline points="172.9,733.3 199.6,742.2" fill="none" stroke="#8c8c8c" stroke-width="3.5" stroke-linecap="round" stroke-linejoin="round" filter="url(#b2)"/>
<polyline points="128.6,764.4 146.3,782.1" fill="none" stroke="#9d9d9d" stroke-width="6.2" stroke-linecap="round" stroke-linejoin="round" filter="url(#b3)"/>
<ellipse cx="141.9" cy="817.6" rx="17.7" ry="8.9" fill="#9d9d9d" filter="url(#b4)"/>
<polyline points="607.7,338.4 643.2,356.2 661.0,400.6" fill="none" stroke="#939393" stroke-width="8.9" stroke-linecap="round" stroke-linejoin="round" filter="url(#b4)"/>
<polyline points="696.4,338.4 723.1,365.1 727.5,427.2" fill="none" stroke="#939393" stroke-width="8.9" stroke-linecap="round" stroke-linejoin="round" filter="url(#b4)"/>
<ellipse cx="638.8" cy="418.3" rx="17.7" ry="13.3" fill="#969696" filter="url(#b5)"/>
<ellipse cx="532.3" cy="373.9" rx="26.6" ry="22.2" fill="#9d9d9d" filter="url(#b8)"/>
<ellipse cx="572.2" cy="338.4" rx="17.7" ry="17.7" fill="#969696" filter="url(#b6)"/>
<polyline points="368.1,143.2 403.6,161.0" fill="none" stroke="#868686" stroke-width="7.1" stroke-linecap="round" stroke-linejoin="round" filter="url(#b4)"/>
<polyline points="421.4,138.8 452.4,129.9" fill="none" stroke="#888888" stroke-width="6.2" stroke-linecap="round" stroke-linejoin="round" filter="url(#b3)"/>
</g></defs>
<g clip-path="url(#dc)"><use href="#fA" filter="url(#cm1)"/>
<rect x="427" y="429" width="73" height="73" fill="#e8181c" fill-opacity="0.5"/>
<use href="#fA" filter="url(#ct31)"/>
<use href="#fA" filter="url(#ct42)"/>
<use href="#fA" filter="url(#ct54)"/>
<use href="#fA" filter="url(#ct65)"/>
</g>
<rect x="974.3000000000001" y="100.7" width="730.0" height="728.0" fill="#fff"/>
<g transform="translate(875.6 0)"><g clip-path="url(#dc)"><g filter="url(#cm2)">
<rect x="40" y="60" width="850" height="830" fill="#8a8a8a"/>
<polygon points="39.8,90.0 230.6,90.0 261.7,200.9 270.5,311.8 230.6,400.6 195.1,489.3 137.4,555.8 39.8,578.0" fill="#7c7c7c" filter="url(#b45)"/>
<polygon points="39.8,200.9 186.2,214.2 217.3,311.8 186.2,422.7 39.8,489.3" fill="#7a7a7a" filter="url(#b36)"/>
<polygon points="39.8,67.8 297.2,67.8 297.2,161.0 39.8,178.7" fill="#7f7f7f" filter="url(#b26)"/>
<ellipse cx="110.8" cy="644.6" rx="53.2" ry="115.4" fill="#838383" filter="url(#b36)"/>
<ellipse cx="439.1" cy="680.1" rx="146.4" ry="75.4" fill="#8f8f8f" filter="url(#b36)"/>
<ellipse cx="607.7" cy="427.2" rx="62.1" ry="39.9" fill="#909090" filter="url(#b22)"/>
<ellipse cx="332.6" cy="276.3" rx="31.1" ry="115.4" fill="#8f8f8f" filter="url(#b22)"/>
<ellipse cx="394.8" cy="844.2" rx="221.8" ry="39.9" fill="#888888" filter="url(#b26)"/>
<ellipse cx="505.7" cy="533.7" rx="71.0" ry="53.2" fill="#898989" filter="url(#b26)"/>
<ellipse cx="776.3" cy="258.6" rx="31.1" ry="53.2" fill="#909090" filter="url(#b18)"/>
<ellipse cx="306.0" cy="555.8" rx="97.6" ry="88.7" fill="#909090" filter="url(#b30)"/>
<ellipse cx="217.3" cy="782.1" rx="66.5" ry="31.1" fill="#929292" filter="url(#b18)"/>
<polygon points="448.0,116.6 794.0,107.7 776.3,236.4 749.7,320.7 594.4,338.4 474.6,236.4 439.1,178.7" fill="#a0a0a0" filter="url(#b26)"/>
<ellipse cx="643.2" cy="240.8" rx="66.5" ry="39.9" fill="#aaaaaa" filter="url(#b15)"/>
<ellipse cx="616.6" cy="152.1" rx="110.9" ry="26.6" fill="#a3a3a3" filter="url(#b15)"/>
<polyline points="377.0,236.4 361.5,298.5 368.1,356.2" fill="none" stroke="#9b9b9b" stroke-width="17.7" stroke-linecap="round" stroke-linejoin="round" filter="url(#b8)"/>
<polyline points="403.6,192.0 439.1,161.0" fill="none" stroke="#9b9b9b" stroke-width="17.7" stroke-linecap="round" stroke-linejoin="round" filter="url(#b8)"/>
<ellipse cx="390.3" cy="132.1" rx="15.5" ry="13.3" fill="#a7a7a7" filter="url(#b6)"/>
<ellipse cx="505.7" cy="145.5" rx="26.6" ry="22.2" fill="#a5a5a5" filter="url(#b8)"/>
<ellipse cx="566.9" cy="161.0" rx="22.2" ry="26.6" fill="#a3a3a3" filter="url(#b10)"/>
<ellipse cx="661.0" cy="147.7" rx="35.5" ry="17.7" fill="#a2a2a2" filter="url(#b12)"/>
<ellipse cx="740.8" cy="138.8" rx="26.6" ry="22.2" fill="#a0a0a0" filter="url(#b12)"/>
<ellipse cx="638.8" cy="200.9" rx="22.2" ry="15.5" fill="#949494" filter="url(#b12)"/>
<ellipse cx="483.5" cy="185.4" rx="17.7" ry="13.3" fill="#949494" filter="url(#b10)"/>
<ellipse cx="705.3" cy="178.7" rx="31.1" ry="17.7" fill="#a2a2a2" filter="url(#b10)"/>
<polyline points="314.9,196.5 326.0,223.1 319.3,249.7" fill="none" stroke="#a0a0a0" stroke-width="9.8" stroke-linecap="round" stroke-linejoin="round" filter="url(#b4)"/>
<ellipse cx="323.8" cy="294.1" rx="8.0" ry="6.2" fill="#9e9e9e" filter="url(#b4)"/>
<polyline points="332.6,338.4 341.5,373.9" fill="none" stroke="#9b9b9b" stroke-width="6.2" stroke-linecap="round" stroke-linejoin="round" filter="url(#b4)"/>
<polygon points="361.5,378.4 368.1,303.0 403.6,232.0 470.2,178.7 550.0,169.9 616.6,178.7 683.1,196.5 727.5,232.0 723.1,285.2 678.7,307.4 629.9,325.1 598.8,360.6 576.7,405.0 536.7,431.6 501.2,449.4 461.3,462.7 421.4,440.5 385.9,413.9" fill="#9e9e9e" filter="url(#b18)"/>
<polygon points="403.6,369.5 421.4,303.0 452.4,245.3 496.8,209.8 550.0,196.5 594.4,203.1 643.2,212.0 687.6,223.1 707.5,251.9 694.2,278.6 656.5,285.2 621.0,300.7 590.0,331.8 567.8,367.3 532.3,396.1 499.0,420.5 465.7,433.8 439.1,429.4 412.5,402.8" fill="#afafaf" filter="url(#b12)"/>
<polygon points="414.7,365.1 436.9,311.8 470.2,263.0 510.1,232.0 550.0,223.1 574.4,238.6 567.8,276.3 545.6,311.8 527.9,347.3 505.7,382.8 474.6,409.4 439.1,409.4 417.8,391.7" fill="#bbbbbb" filter="url(#b10)"/>
<ellipse cx="459.1" cy="356.2" rx="27.5" ry="42.1" fill="#c5c5c5" transform="rotate(15 459.1 356.2)" filter="url(#b10)"/>
<ellipse cx="532.3" cy="291.9" rx="17.7" ry="37.7" fill="#c0c0c0" transform="rotate(20 532.3 291.9)" filter="url(#b8)"/>
<ellipse cx="485.7" cy="258.6" rx="15.5" ry="31.1" fill="#bebebe" transform="rotate(25 485.7 258.6)" filter="url(#b8)"/>
<ellipse cx="672.0" cy="253.3" rx="15.1" ry="15.1" fill="#b8b8b8" filter="url(#b6)"/>
<ellipse cx="448.9" cy="419.2" rx="14.2" ry="12.4" fill="#d1d1d1" filter="url(#b4)"/>
<ellipse cx="432.9" cy="429.8" rx="7.5" ry="8.9" fill="#d3d3d3" filter="url(#b3)"/>
<ellipse cx="441.8" cy="445.8" rx="9.8" ry="9.8" fill="#cfcfcf" filter="url(#b3)"/>
<ellipse cx="459.5" cy="468.4" rx="6.2" ry="6.2" fill="#c9c9c9" filter="url(#b2)"/>
<ellipse cx="654.3" cy="285.2" rx="6.7" ry="5.3" fill="#afafaf" filter="url(#b3)"/>
<ellipse cx="665.4" cy="296.3" rx="6.7" ry="5.3" fill="#afafaf" filter="url(#b3)"/>
<ellipse cx="680.9" cy="298.5" rx="6.7" ry="5.3" fill="#afafaf" filter="url(#b3)"/>
<ellipse cx="698.7" cy="305.2" rx="6.7" ry="5.3" fill="#afafaf" filter="url(#b3)"/>
<ellipse cx="718.6" cy="303.0" rx="6.7" ry="5.3" fill="#afafaf" filter="url(#b3)"/>
<ellipse cx="736.4" cy="302.1" rx="6.7" ry="5.3" fill="#afafaf" filter="url(#b3)"/>
<ellipse cx="747.5" cy="311.8" rx="6.7" ry="5.3" fill="#afafaf" filter="url(#b3)"/>
<ellipse cx="718.6" cy="329.6" rx="6.7" ry="5.3" fill="#afafaf" filter="url(#b3)"/>
<ellipse cx="736.4" cy="331.8" rx="6.7" ry="5.3" fill="#afafaf" filter="url(#b3)"/>
<polygon points="594.4,320.7 740.8,311.8 736.4,444.9 585.5,444.9 572.2,378.4" fill="#9e9e9e" filter="url(#b18)"/>
<ellipse cx="674.3" cy="373.9" rx="20.0" ry="26.6" fill="#aaaaaa" filter="url(#b10)"/>
<ellipse cx="616.6" cy="396.1" rx="13.3" ry="22.2" fill="#a7a7a7" filter="url(#b8)"/>
<ellipse cx="714.2" cy="400.6" rx="17.7" ry="26.6" fill="#a7a7a7" filter="url(#b8)"/>
<ellipse cx="745.2" cy="258.6" rx="24.4" ry="35.5" fill="#929292" filter="url(#b12)"/>
<ellipse cx="607.7" cy="431.6" rx="20.0" ry="12.4" fill="#929292" filter="url(#b8)"/>
<ellipse cx="567.8" cy="436.1" rx="9.8" ry="12.4" fill="#a5a5a5" filter="url(#b4)"/>
<polygon points="572.2,444.9 638.8,436.1 705.3,440.5 736.4,467.1 731.9,533.7 725.3,600.2 716.4,662.3 674.3,680.1 638.8,660.1 603.3,624.6 563.3,589.1 541.2,555.8 570.0,511.5 574.4,476.0" fill="#9e9e9e" filter="url(#b15)"/>
<polygon points="585.5,458.2 643.2,449.4 705.3,453.8 729.7,480.4 727.5,533.7 723.1,591.3 712.0,644.6 678.7,662.3 647.6,644.6 612.2,609.1 576.7,573.6 565.6,551.4 585.5,511.5 587.7,480.4" fill="#adadad" filter="url(#b10)"/>
<polygon points="598.8,489.3 661.0,480.4 709.8,498.2 718.6,555.8 709.8,613.5 674.3,631.3 634.3,609.1 603.3,573.6 590.0,533.7" fill="#b8b8b8" filter="url(#b10)"/>
<ellipse cx="674.3" cy="688.9" rx="17.7" ry="11.1" fill="#a3a3a3" filter="url(#b4)"/>
<ellipse cx="669.8" cy="440.5" rx="62.1" ry="22.2" fill="#a7a7a7" filter="url(#b12)"/>
<ellipse cx="705.3" cy="458.2" rx="26.6" ry="17.7" fill="#adadad" filter="url(#b8)"/>
<ellipse cx="665.4" cy="598.0" rx="18.6" ry="16.0" fill="#d3d3d3" filter="url(#b4)"/>
<ellipse cx="669.8" cy="642.4" rx="8.0" ry="8.0" fill="#c4c4c4" filter="url(#b3)"/>
<ellipse cx="669.8" cy="658.8" rx="5.3" ry="4.4" fill="#c0c0c0" filter="url(#b2)"/>
<ellipse cx="684.0" cy="694.3" rx="7.5" ry="6.2" fill="#cccccc" filter="url(#b3)"/>
<polyline points="643.2,755.5 674.3,720.0 700.9,711.1" fill="none" stroke="#a2a2a2" stroke-width="11.5" stroke-linecap="round" stroke-linejoin="round" filter="url(#b4)"/>
<polyline points="656.5,782.1 687.6,746.6 709.8,728.9" fill="none" stroke="#a5a5a5" stroke-width="9.8" stroke-linecap="round" stroke-linejoin="round" filter="url(#b4)"/>
<polyline points="683.1,808.7 698.7,773.2 705.3,755.5" fill="none" stroke="#a5a5a5" stroke-width="9.8" stroke-linecap="round" stroke-linejoin="round" filter="url(#b4)"/>
<ellipse cx="700.9" cy="791.0" rx="4.4" ry="11.1" fill="#b2b2b2" filter="url(#b2)"/>
<ellipse cx="505.7" cy="485.7" rx="21.3" ry="8.0" fill="#afafaf" transform="rotate(35 505.7 485.7)" filter="url(#b3)"/>
<ellipse cx="524.8" cy="482.6" rx="3.5" ry="2.7" fill="#b8b8b8" filter="url(#b2)"/>
<ellipse cx="361.5" cy="499.1" rx="5.3" ry="9.8" fill="#afafaf" transform="rotate(-20 361.5 499.1)" filter="url(#b2)"/>
<ellipse cx="244.8" cy="499.1" rx="5.3" ry="5.3" fill="#b2b2b2" filter="url(#b2)"/>
<ellipse cx="217.3" cy="533.7" rx="4.0" ry="5.3" fill="#aaaaaa" filter="url(#b2)"/>
<ellipse cx="166.3" cy="593.5" rx="3.5" ry="8.9" fill="#a7a7a7" transform="rotate(-15 166.3 593.5)" filter="url(#b2)"/>
<ellipse cx="227.1" cy="711.1" rx="5.8" ry="5.8" fill="#b2b2b2" filter="url(#b2)"/>
<polyline points="312.7,682.3 326.0,691.2 339.3,702.2" fill="none" stroke="#a8a8a8" stroke-width="6.2" stroke-linecap="round" stroke-linejoin="round" filter="url(#b2)"/>
<polyline points="350.4,682.3 365.9,691.2" fill="none" stroke="#a8a8a8" stroke-width="6.2" stroke-linecap="round" stroke-linejoin="round" filter="url(#b2)"/>
<ellipse cx="475.5" cy="678.7" rx="6.2" ry="4.0" fill="#aaaaaa" filter="url(#b2)"/>
<ellipse cx="445.8" cy="706.7" rx="3.5" ry="2.7" fill="#a5a5a5" filter="url(#b2)"/>
<ellipse cx="350.4" cy="762.1" rx="3.5" ry="2.7" fill="#a3a3a3" filter="url(#b2)"/>
<ellipse cx="277.6" cy="575.8" rx="42.1" ry="22.2" fill="#a2a2a2" transform="rotate(40 277.6 575.8)" filter="url(#b8)"/>
<ellipse cx="274.1" cy="572.7" rx="27.5" ry="13.3" fill="#b4b4b4" transform="rotate(40 274.1 572.7)" filter="url(#b4)"/>
<ellipse cx="301.6" cy="600.2" rx="8.0" ry="5.3" fill="#afafaf" transform="rotate(35 301.6 600.2)" filter="url(#b3)"/>
<polyline points="235.0,533.7 252.8,560.3 270.5,573.6" fill="none" stroke="#9e9e9e" stroke-width="7.1" stroke-linecap="round" stroke-linejoin="round" filter="url(#b4)"/>
<polyline points="297.2,489.3 314.9,533.7 332.6,569.1" fill="none" stroke="#9e9e9e" stroke-width="7.1" stroke-linecap="round" stroke-linejoin="round" filter="url(#b4)"/>
<polyline points="314.9,551.4 368.1,578.0 377.0,613.5" fill="none" stroke="#9e9e9e" stroke-width="6.2" stroke-linecap="round" stroke-linejoin="round" filter="url(#b4)"/>
<polyline points="332.6,600.2 359.3,635.7 394.8,631.3" fill="none" stroke="#9e9e9e" stroke-width="7.1" stroke-linecap="round" stroke-linejoin="round" filter="url(#b4)"/>
<polyline points="350.4,538.1 370.4,518.1" fill="none" stroke="#9e9e9e" stroke-width="6.2" stroke-linecap="round" stroke-linejoin="round" filter="url(#b3)"/>
<polyline points="230.6,467.1 257.2,453.8 283.8,440.5" fill="none" stroke="#929292" stroke-width="6.2" stroke-linecap="round" stroke-linejoin="round" filter="url(#b4)"/>
<polyline points="279.4,400.6 286.1,427.2" fill="none" stroke="#a2a2a2" stroke-width="6.2" stroke-linecap="round" stroke-linejoin="round" filter="url(#b3)"/>
<polyline points="195.1,476.0 217.3,471.5" fill="none" stroke="#999999" stroke-width="4.4" stroke-linecap="round" stroke-linejoin="round" filter="url(#b2)"/>
<ellipse cx="124.1" cy="799.8" rx="39.9" ry="26.6" fill="#a3a3a3" filter="url(#b8)"/>
<ellipse cx="110.8" cy="808.7" rx="11.1" ry="8.0" fill="#b1b1b1" filter="url(#b4)"/>
<ellipse cx="159.6" cy="795.4" rx="11.1" ry="20.0" fill="#adadad" transform="rotate(10 159.6 795.4)" filter="url(#b4)"/>
<ellipse cx="161.8" cy="817.6" rx="6.7" ry="6.7" fill="#b4b4b4" filter="url(#b3)"/>
<polyline points="199.6,746.6 226.2,773.2 252.8,799.8" fill="none" stroke="#a0a0a0" stroke-width="9.8" stroke-linecap="round" stroke-linejoin="round" filter="url(#b4)"/>
<polyline points="252.8,764.4 270.5,791.0" fill="none" stroke="#a3a3a3" stroke-width="13.3" stroke-linecap="round" stroke-linejoin="round" filter="url(#b4)"/>
<polyline points="208.4,720.0 235.0,728.9" fill="none" stroke="#9c9c9c" stroke-width="4.4" stroke-linecap="round" stroke-linejoin="round" filter="url(#b2)"/>
<polyline points="323.8,799.8 350.4,817.6" fill="none" stroke="#9c9c9c" stroke-width="8.0" stroke-linecap="round" stroke-linejoin="round" filter="url(#b4)"/>
<ellipse cx="510.1" cy="276.3" rx="57.7" ry="55.5" fill="#bdbdbd" filter="url(#b15)"/>
<ellipse cx="554.5" cy="249.7" rx="26.6" ry="31.1" fill="#bbbbbb" filter="url(#b12)"/>
<polyline points="296.7,464.9 314.0,444.9" fill="none" stroke="#a7a7a7" stroke-width="6.2" stroke-linecap="round" stroke-linejoin="round" filter="url(#b2)"/>
<ellipse cx="301.6" cy="507.5" rx="13.3" ry="17.7" fill="#a0a0a0" filter="url(#b6)"/>
<polyline points="356.6,578.0 368.1,564.7 374.4,559.8" fill="none" stroke="#9e9e9e" stroke-width="4.4" stroke-linecap="round" stroke-linejoin="round" filter="url(#b2)"/>
<polyline points="394.8,373.9 410.3,400.6" fill="none" stroke="#9c9c9c" stroke-width="5.3" stroke-linecap="round" stroke-linejoin="round" filter="url(#b3)"/>
<polyline points="230.6,502.6 217.3,524.8" fill="none" stroke="#9e9e9e" stroke-width="5.3" stroke-linecap="round" stroke-linejoin="round" filter="url(#b3)"/>
<polyline points="261.7,480.4 275.0,507.0 292.7,538.1" fill="none" stroke="#9c9c9c" stroke-width="5.3" stroke-linecap="round" stroke-linejoin="round" filter="url(#b3)"/>
<polyline points="195.1,427.2 230.6,409.4 261.7,396.1" fill="none" stroke="#858585" stroke-width="4.4" stroke-linecap="round" stroke-linejoin="round" filter="url(#b3)"/>
<polyline points="172.9,453.8 212.9,444.9" fill="none" stroke="#868686" stroke-width="4.4" stroke-linecap="round" stroke-linejoin="round" filter="url(#b3)"/>
<polyline points="217.3,560.3 239.5,586.9" fill="none" stroke="#a0a0a0" stroke-width="5.3" stroke-linecap="round" stroke-linejoin="round" filter="url(#b3)"/>
<polyline points="332.6,511.5 350.4,555.8" fill="none" stroke="#9c9c9c" stroke-width="5.3" stroke-linecap="round" stroke-linejoin="round" filter="url(#b3)"/>
<polyline points="390.3,533.7 403.6,569.1 394.8,600.2" fill="none" stroke="#9b9b9b" stroke-width="4.4" stroke-linecap="round" stroke-linejoin="round" filter="url(#b3)"/>
<polyline points="368.1,649.0 403.6,666.8" fill="none" stroke="#9b9b9b" stroke-width="4.4" stroke-linecap="round" stroke-linejoin="round" filter="url(#b3)"/>
<ellipse cx="261.7" cy="786.5" rx="12.4" ry="17.7" fill="#aaaaaa" transform="rotate(-20 261.7 786.5)" filter="url(#b4)"/>
<polyline points="204.0,755.5 217.3,782.1 235.0,808.7" fill="none" stroke="#aaaaaa" stroke-width="5.3" stroke-linecap="round" stroke-linejoin="round" filter="url(#b2)"/>
<polyline points="230.6,742.2 257.2,764.4 279.4,795.4" fill="none" stroke="#a3a3a3" stroke-width="4.4" stroke-linecap="round" stroke-linejoin="round" filter="url(#b2)"/>
<polyline points="172.9,733.3 199.6,742.2" fill="none" stroke="#9e9e9e" stroke-width="3.5" stroke-linecap="round" stroke-linejoin="round" filter="url(#b2)"/>
<polyline points="128.6,764.4 146.3,782.1" fill="none" stroke="#aaaaaa" stroke-width="6.2" stroke-linecap="round" stroke-linejoin="round" filter="url(#b3)"/>
<ellipse cx="141.9" cy="817.6" rx="17.7" ry="8.9" fill="#aaaaaa" filter="url(#b4)"/>
<polyline points="607.7,338.4 643.2,356.2 661.0,400.6" fill="none" stroke="#a3a3a3" stroke-width="8.9" stroke-linecap="round" stroke-linejoin="round" filter="url(#b4)"/>
<polyline points="696.4,338.4 723.1,365.1 727.5,427.2" fill="none" stroke="#a3a3a3" stroke-width="8.9" stroke-linecap="round" stroke-linejoin="round" filter="url(#b4)"/>
<ellipse cx="638.8" cy="418.3" rx="17.7" ry="13.3" fill="#a5a5a5" filter="url(#b5)"/>
<ellipse cx="532.3" cy="373.9" rx="26.6" ry="22.2" fill="#aaaaaa" filter="url(#b8)"/>
<ellipse cx="572.2" cy="338.4" rx="17.7" ry="17.7" fill="#a5a5a5" filter="url(#b6)"/>
<polyline points="368.1,143.2 403.6,161.0" fill="none" stroke="#999999" stroke-width="7.1" stroke-linecap="round" stroke-linejoin="round" filter="url(#b4)"/>
<polyline points="421.4,138.8 452.4,129.9" fill="none" stroke="#9b9b9b" stroke-width="6.2" stroke-linecap="round" stroke-linejoin="round" filter="url(#b3)"/>
</g></g></g>
<g clip-path="url(#ax1)">
<text x="725.8" y="413.9" font-size="14.20" textLength="30.0" lengthAdjust="spacingAndGlyphs" fill="#fde725" transform="rotate(-62 740.8 409.4)">−31</text>
<text x="723.6" y="493.8" font-size="14.20" textLength="30.0" lengthAdjust="spacingAndGlyphs" fill="#fde725" transform="rotate(-68 738.6 489.3)">−31</text>
<text x="246.7" y="551.5" font-size="14.20" textLength="30.0" lengthAdjust="spacingAndGlyphs" fill="#fde725" transform="rotate(82 261.7 547)">−31</text>
<text x="144.6" y="795.5" font-size="14.20" textLength="30.0" lengthAdjust="spacingAndGlyphs" fill="#fde725" transform="rotate(-15 159.6 791)">−31</text>
<text x="255.5" y="804.5" font-size="14.20" textLength="30.0" lengthAdjust="spacingAndGlyphs" fill="#fde725" transform="rotate(-80 270.5 800)">−31</text>
<text x="597.2" y="369.5" font-size="14.20" textLength="30.0" lengthAdjust="spacingAndGlyphs" fill="#fde725" transform="rotate(88 612.2 365)">−31</text>
<text x="552.8" y="342.9" font-size="14.20" textLength="30.0" lengthAdjust="spacingAndGlyphs" fill="#22a884" transform="rotate(48 567.8 338.4)">−54</text>
<text x="606.0" y="560.3" font-size="14.20" textLength="30.0" lengthAdjust="spacingAndGlyphs" fill="#22a884" transform="rotate(-20 621 555.8)">−54</text>
<text x="641.5" y="582.5" font-size="14.20" textLength="30.0" lengthAdjust="spacingAndGlyphs" fill="#22a884" transform="rotate(-25 656.5 578)">−54</text>
<text x="668.0" y="622.5" font-size="14.20" textLength="30.0" lengthAdjust="spacingAndGlyphs" fill="#22a884" transform="rotate(65 683 618)">−54</text>
<text x="459.6" y="336.3" font-size="14.20" textLength="30.0" lengthAdjust="spacingAndGlyphs" fill="#2a788e" transform="rotate(72 474.6 331.8)">−64</text>
<text x="495.0" y="396.2" font-size="14.20" textLength="30.0" lengthAdjust="spacingAndGlyphs" fill="#7ad151" transform="rotate(80 510 391.7)">−42</text>
<text x="646.0" y="462.5" font-size="14.20" textLength="30.0" lengthAdjust="spacingAndGlyphs" fill="#7ad151" transform="rotate(86 661 458)">−42</text>
<text x="282.0" y="587.0" font-size="14.20" textLength="30.0" lengthAdjust="spacingAndGlyphs" fill="#7ad151" transform="rotate(60 297 582.5)">−42</text>
<path d="M152.0 100.7V828.7M297.3 100.7V828.7M442.7 100.7V828.7M588.0 100.7V828.7M733.4 100.7V828.7M98.7 178.0H828.7M98.7 323.8H828.7M98.7 469.5H828.7M98.7 615.2H828.7M98.7 761.0H828.7" stroke="#fff" stroke-width="2.1" stroke-dasharray="2.1 3.5" fill="none"/>
<polyline points="432,484 445,489 462,500 470,508 482,507 500,505 520,505 540,503 560,501 575,503 590,510 605,516 622,521 640,524 660,526 690,528 720,529 734,529" fill="none" stroke="#00bfbf" stroke-width="9.5" stroke-dasharray="2.5 1.6" stroke-linejoin="round"/>
<polyline points="435,482 450,487 462,497 473,507 500,505 540,502 561,500 575,504 591,510.5 621,523 651,525.6 690,527.5 726,528.6" fill="none" stroke="#008000" stroke-width="3.6" stroke-linejoin="round"/>
<polyline points="101,418.6 152,418.8 190,423 222,428.5 260,434 297,440 335,446.5 372,453.7 400,459.5 422,465 440,472 447,476" fill="none" stroke="#0000ff" stroke-width="3.2" stroke-dasharray="3.2 5.3"/>
<polyline points="828,528.1 763.4,528.1 712.2,529.8 654.1,521 603.4,513.5 545.7,507.5 508,507.5 494.9,507.5 479.9,499.2 472.8,491.7 464.8,470.3" fill="none" stroke="#0000ff" stroke-width="3.2" stroke-linejoin="round"/>
<circle cx="763.4" cy="528.1" r="4.6" fill="#0000ff"/>
<circle cx="712.2" cy="529.8" r="4.6" fill="#0000ff"/>
<circle cx="654.1" cy="521" r="4.6" fill="#0000ff"/>
<circle cx="603.4" cy="513.5" r="4.6" fill="#0000ff"/>
<circle cx="545.7" cy="507.5" r="4.6" fill="#0000ff"/>
<circle cx="508" cy="507.5" r="4.6" fill="#0000ff"/>
<circle cx="494.9" cy="507.5" r="4.6" fill="#0000ff"/>
<circle cx="479.9" cy="499.2" r="4.6" fill="#0000ff"/>
<circle cx="472.8" cy="491.7" r="4.6" fill="#0000ff"/>
<circle cx="464.8" cy="470.3" r="4.6" fill="#0000ff"/>
<polyline points="745.3,528.1 711.4,528.1 680,527.5 641,526.8 611,527.6 607.2,523 600,522 596,519 591,521 588,517.5 580.8,519.3 583,513 593.4,510.5 585,507 573.3,504.2 558.2,502.5 535.6,504.2 515,502.5 492.9,501.7 477.8,506.7 478,511 482.9,514.3 476,516 467.8,514.3 456,503 445.2,492.9 437.7,487.9 455,489 470.3,486.6 458,481 445.2,475.3 455,470 462.8,465.8" fill="none" stroke="#ff0000" stroke-width="4.3" stroke-linejoin="round" stroke-linecap="round"/>
<rect x="468.7" y="462.7" width="9.2" height="9.2" fill="#bf00bf"/>
<rect x="519.0" y="465.7" width="9.2" height="9.2" fill="#bf00bf"/>
<rect x="601.8" y="456.7" width="9.2" height="9.2" fill="#bf00bf"/>
<rect x="629.7" y="460.2" width="9.2" height="9.2" fill="#bf00bf"/>
<rect x="581.2" y="474.8" width="9.2" height="9.2" fill="#bf00bf"/>
<rect x="571.7" y="489.1" width="9.2" height="9.2" fill="#bf00bf"/>
<rect x="504.9" y="489.6" width="9.2" height="9.2" fill="#bf00bf"/>
<rect x="493.8" y="508.9" width="9.2" height="9.2" fill="#bf00bf"/>
<rect x="534.3" y="503.4" width="9.2" height="9.2" fill="#bf00bf"/>
<rect x="560.4" y="519.7" width="9.2" height="9.2" fill="#bf00bf"/>
<rect x="498.9" y="534.8" width="9.2" height="9.2" fill="#bf00bf"/>
<rect x="700.5" y="516.9" width="9.2" height="9.2" fill="#bf00bf"/>
<rect x="696.8" y="524.7" width="9.2" height="9.2" fill="#bf00bf"/>
<rect x="768.8" y="523.5" width="9.2" height="9.2" fill="#bf00bf"/>
<rect x="735.7" y="545.6" width="9.2" height="9.2" fill="#bf00bf"/>
<path d="M370 472l8.4 8.4M378.4 472l-8.4 8.4" stroke="#ff0000" stroke-width="3.2" fill="none"/>
</g>
<rect x="425.8" y="108.8" width="396.4" height="188.4" rx="3.5" fill="#fff" fill-opacity="0.8" stroke="#ccc" stroke-opacity="0.8" stroke-width="1.4"/>
<text x="476.3" y="128.0" font-size="15.55" textLength="335.5" lengthAdjust="spacingAndGlyphs" fill="#000">AMSU Locations [NOAAMC/1720Z 36 1000]</text>
<text x="476.3" y="150.8" font-size="15.55" textLength="210.0" lengthAdjust="spacingAndGlyphs" fill="#000">ARCHER Locations [2330Z]</text>
<text x="476.3" y="173.4" font-size="15.55" textLength="278.3" lengthAdjust="spacingAndGlyphs" fill="#000">SATCON Locations [0010Z 40 1004]</text>
<text x="476.3" y="196.1" font-size="15.55" textLength="252.1" lengthAdjust="spacingAndGlyphs" fill="#000">ADT Tracks [0030Z 33.0 1007.7]</text>
<text x="476.3" y="218.8" font-size="15.55" textLength="242.8" lengthAdjust="spacingAndGlyphs" fill="#000">JTWC/NHC Forecast [26/1800Z]</text>
<text x="476.3" y="241.5" font-size="15.55" textLength="225.8" lengthAdjust="spacingAndGlyphs" fill="#000">JTWC/NHC Tracks [27/0000Z]</text>
<text x="476.3" y="264.2" font-size="15.55" textLength="232.3" lengthAdjust="spacingAndGlyphs" fill="#000">MESOSCALE/TARGET Location</text>
<text x="476.3" y="286.9" font-size="15.55" textLength="117.3" lengthAdjust="spacingAndGlyphs" fill="#000">Floater Locater</text>
<rect x="444.1" y="118.2" width="8.4" height="8.4" fill="#bf00bf"/>
<rect x="444.1" y="141.0" width="8.4" height="8.4" fill="#bf00bf"/>
<path d="M444.7 164.20000000000002l7.2 7.2M451.90000000000003 164.20000000000002l-7.2 7.2" stroke="#00bfbf" stroke-width="2.6" fill="none"/>
<path d="M431.5 190.5H465" stroke="#008000" stroke-width="2.6"/>
<path d="M431.5 213.2H465" stroke="#0000ff" stroke-width="2.8" stroke-dasharray="2.8 4.6"/>
<path d="M431.5 235.9H465" stroke="#0000ff" stroke-width="2.6"/><circle cx="448.3" cy="235.9" r="4" fill="#0000ff"/>
<path d="M443.90000000000003 254.20000000000002l8.8 8.8M452.7 254.20000000000002l-8.8 8.8" stroke="#ff0000" stroke-width="3.2" fill="none"/>
<path d="M431.5 281.3H465" stroke="#ff0000" stroke-width="3.2"/>
<rect x="97.3" y="803.3" width="312.5" height="27.5" rx="4" fill="#000"/>
<text x="102.7" y="822.2" font-size="17.30" textLength="301.8" lengthAdjust="spacingAndGlyphs" fill="#fff" font-weight="bold">Copyright © 2020-2025 Dapiya</text>
<rect x="98.7" y="100.7" width="730.0" height="728.0" fill="none" stroke="#000" stroke-width="2.5"/>
<path d="M1027.6 100.7V828.7M1172.9 100.7V828.7M1318.3 100.7V828.7M1463.6 100.7V828.7M1609.0 100.7V828.7M974.3 178.0H1704.3M974.3 323.8H1704.3M974.3 469.5H1704.3M974.3 615.2H1704.3M974.3 761.0H1704.3" stroke="#fff" stroke-width="2.1" stroke-dasharray="2.1 3.5" fill="none"/>
<rect x="974.3000000000001" y="100.7" width="730.0" height="728.0" fill="none" stroke="#000" stroke-width="2.5"/>
<text x="130.5" y="851.5" font-size="12.65" textLength="43.0" lengthAdjust="spacingAndGlyphs" fill="#000">124°W</text>
<text x="275.8" y="851.5" font-size="12.65" textLength="43.0" lengthAdjust="spacingAndGlyphs" fill="#000">122°W</text>
<text x="421.2" y="851.5" font-size="12.65" textLength="43.0" lengthAdjust="spacingAndGlyphs" fill="#000">120°W</text>
<text x="566.5" y="851.5" font-size="12.65" textLength="43.0" lengthAdjust="spacingAndGlyphs" fill="#000">118°W</text>
<text x="711.9" y="851.5" font-size="12.65" textLength="43.0" lengthAdjust="spacingAndGlyphs" fill="#000">116°W</text>
<text x="59.6" y="182.6" font-size="12.65" textLength="31.9" lengthAdjust="spacingAndGlyphs" fill="#000">18°N</text>
<text x="59.6" y="328.4" font-size="12.65" textLength="31.9" lengthAdjust="spacingAndGlyphs" fill="#000">16°N</text>
<text x="59.6" y="474.1" font-size="12.65" textLength="31.9" lengthAdjust="spacingAndGlyphs" fill="#000">14°N</text>
<text x="59.6" y="619.8" font-size="12.65" textLength="31.9" lengthAdjust="spacingAndGlyphs" fill="#000">12°N</text>
<text x="59.6" y="765.6" font-size="12.65" textLength="31.9" lengthAdjust="spacingAndGlyphs" fill="#000">10°N</text>
<text x="1006.1" y="851.5" font-size="12.65" textLength="43.0" lengthAdjust="spacingAndGlyphs" fill="#000">124°W</text>
<text x="1151.4" y="851.5" font-size="12.65" textLength="43.0" lengthAdjust="spacingAndGlyphs" fill="#000">122°W</text>
<text x="1296.8" y="851.5" font-size="12.65" textLength="43.0" lengthAdjust="spacingAndGlyphs" fill="#000">120°W</text>
<text x="1442.1" y="851.5" font-size="12.65" textLength="43.0" lengthAdjust="spacingAndGlyphs" fill="#000">118°W</text>
<text x="1587.5" y="851.5" font-size="12.65" textLength="43.0" lengthAdjust="spacingAndGlyphs" fill="#000">116°W</text>
<text x="935.2" y="182.6" font-size="12.65" textLength="31.9" lengthAdjust="spacingAndGlyphs" fill="#000">18°N</text>
<text x="935.2" y="328.4" font-size="12.65" textLength="31.9" lengthAdjust="spacingAndGlyphs" fill="#000">16°N</text>
<text x="935.2" y="474.1" font-size="12.65" textLength="31.9" lengthAdjust="spacingAndGlyphs" fill="#000">14°N</text>
<text x="935.2" y="619.8" font-size="12.65" textLength="31.9" lengthAdjust="spacingAndGlyphs" fill="#000">12°N</text>
<text x="935.2" y="765.6" font-size="12.65" textLength="31.9" lengthAdjust="spacingAndGlyphs" fill="#000">10°N</text>
<rect x="835.6" y="101" width="14" height="728" fill="url(#cb1)" stroke="#000" stroke-width="1"/>
<text x="856.0" y="162.3" font-size="17.40" textLength="22.1" lengthAdjust="spacingAndGlyphs" fill="#000">40</text>
<text x="856.0" y="216.3" font-size="17.40" textLength="22.1" lengthAdjust="spacingAndGlyphs" fill="#000">30</text>
<text x="856.0" y="270.3" font-size="17.40" textLength="22.1" lengthAdjust="spacingAndGlyphs" fill="#000">20</text>
<text x="856.0" y="324.3" font-size="17.40" textLength="22.1" lengthAdjust="spacingAndGlyphs" fill="#000">10</text>
<text x="856.0" y="378.3" font-size="17.40" textLength="11.1" lengthAdjust="spacingAndGlyphs" fill="#000">0</text>
<text x="858.7" y="432.3" font-size="17.40" textLength="36.7" lengthAdjust="spacingAndGlyphs" fill="#000">−10</text>
<text x="858.7" y="486.3" font-size="17.40" textLength="36.7" lengthAdjust="spacingAndGlyphs" fill="#000">−20</text>
<text x="858.7" y="540.3" font-size="17.40" textLength="36.7" lengthAdjust="spacingAndGlyphs" fill="#000">−30</text>
<text x="858.7" y="594.3" font-size="17.40" textLength="36.7" lengthAdjust="spacingAndGlyphs" fill="#000">−40</text>
<text x="858.7" y="648.3" font-size="17.40" textLength="36.7" lengthAdjust="spacingAndGlyphs" fill="#000">−50</text>
<text x="858.7" y="702.3" font-size="17.40" textLength="36.7" lengthAdjust="spacingAndGlyphs" fill="#000">−60</text>
<text x="858.7" y="756.3" font-size="17.40" textLength="36.7" lengthAdjust="spacingAndGlyphs" fill="#000">−70</text>
<text x="858.7" y="810.3" font-size="17.40" textLength="36.7" lengthAdjust="spacingAndGlyphs" fill="#000">−80</text>
<text x="844.5" y="93.6" font-size="16.50" textLength="19.8" lengthAdjust="spacingAndGlyphs" fill="#000">°C</text>
<rect x="1710.8" y="101" width="14" height="728" fill="url(#cb2)" stroke="#000" stroke-width="1"/>
<text x="1731.3" y="157.5" font-size="17.40" textLength="22.1" lengthAdjust="spacingAndGlyphs" fill="#000">40</text>
<text x="1731.3" y="206.1" font-size="17.40" textLength="22.1" lengthAdjust="spacingAndGlyphs" fill="#000">30</text>
<text x="1731.3" y="254.7" font-size="17.40" textLength="22.1" lengthAdjust="spacingAndGlyphs" fill="#000">20</text>
<text x="1731.3" y="303.3" font-size="17.40" textLength="22.1" lengthAdjust="spacingAndGlyphs" fill="#000">10</text>
<text x="1731.3" y="351.9" font-size="17.40" textLength="11.1" lengthAdjust="spacingAndGlyphs" fill="#000">0</text>
<text x="1733.7" y="400.5" font-size="17.40" textLength="36.7" lengthAdjust="spacingAndGlyphs" fill="#000">−10</text>
<text x="1733.7" y="449.1" font-size="17.40" textLength="36.7" lengthAdjust="spacingAndGlyphs" fill="#000">−20</text>
<text x="1733.7" y="497.7" font-size="17.40" textLength="36.7" lengthAdjust="spacingAndGlyphs" fill="#000">−30</text>
<text x="1733.7" y="546.3" font-size="17.40" textLength="36.7" lengthAdjust="spacingAndGlyphs" fill="#000">−40</text>
<text x="1733.7" y="594.9" font-size="17.40" textLength="36.7" lengthAdjust="spacingAndGlyphs" fill="#000">−50</text>
<text x="1733.7" y="643.5" font-size="17.40" textLength="36.7" lengthAdjust="spacingAndGlyphs" fill="#000">−60</text>
<text x="1733.7" y="692.1" font-size="17.40" textLength="36.7" lengthAdjust="spacingAndGlyphs" fill="#000">−70</text>
<text x="1733.7" y="740.7" font-size="17.40" textLength="36.7" lengthAdjust="spacingAndGlyphs" fill="#000">−80</text>
<text x="1733.7" y="789.3" font-size="17.40" textLength="36.7" lengthAdjust="spacingAndGlyphs" fill="#000">−90</text>
<text x="1720.0" y="93.6" font-size="16.50" textLength="19.8" lengthAdjust="spacingAndGlyphs" fill="#000">°C</text>
<text x="99.3" y="51.2" font-size="25.96" textLength="470.5" lengthAdjust="spacingAndGlyphs" fill="#000">GOES-18 BAND14-DIAS MESOSCALE</text>
<text x="99.3" y="81.2" font-size="25.96" textLength="372.8" lengthAdjust="spacingAndGlyphs" fill="#000">Time: 2025/10/27 01:09:57Z</text>
<text x="1344.8" y="38.6" font-size="17.27" textLength="356.9" lengthAdjust="spacingAndGlyphs" fill="#000">[dmax, dmin](BAND14)=(9.178, -73.321)</text>
<text x="1359.6" y="59.6" font-size="17.27" textLength="342.1" lengthAdjust="spacingAndGlyphs" fill="#000">[dmax, dmin](AWV)=(-28.823, -73.433)</text>
<text x="1470.7" y="80.6" font-size="17.27" textLength="231.0" lengthAdjust="spacingAndGlyphs" fill="#000">18E.SONIA | 40kt, 1004mb</text>
<text x="316.3" y="882.0" font-size="22.47" textLength="316.0" lengthAdjust="spacingAndGlyphs" fill="#000">Wind / Pres. / ACE Diagnosis</text>
<polyline points="131.3,1260.9 169.4,1260.9 207.5,1260.9 245.6,1260.9 283.7,1204.2 321.8,1147.4 359.9,1147.4 398.0,1090.7 436.1,1090.7 474.2,1090.7 512.3,1090.7 550.4,1033.9 588.5,920.4 626.6,920.4 664.7,920.4 702.8,920.4 740.9,920.4 779.0,977.2 817.1,977.2" fill="none" stroke="#0000ff" stroke-width="4.4" stroke-linejoin="round"/>
<rect x="108.7" y="912.2" width="214.4" height="35.6" rx="3.5" fill="#fff" fill-opacity="0.8" stroke="#ccc" stroke-opacity="0.8" stroke-width="3"/>
<path d="M114.7 928.7h43.5" stroke="#0000ff" stroke-width="4.4"/>
<text x="170.8" y="935.4" font-size="18.80" textLength="142.6" lengthAdjust="spacingAndGlyphs" fill="#000">Wind[max=45]</text>
<polyline points="131.3,920.4 169.4,920.4 207.5,920.4 245.6,1066.4 283.7,1066.4 321.8,1066.4 359.9,1090.7 398.0,1115.0 436.1,1115.0 474.2,1115.0 512.3,1115.0 550.4,1139.4 588.5,1261.0 626.6,1261.0 664.7,1261.0 702.8,1236.7 740.9,1236.7 779.0,1188.0 817.1,1188.0" fill="none" stroke="#1f77b4" stroke-width="4.4" stroke-linejoin="round"/>
<rect x="608.8" y="912.2" width="232.2" height="35.6" rx="3.5" fill="#fff" fill-opacity="0.8" stroke="#ccc" stroke-opacity="0.8" stroke-width="3"/>
<path d="M614.8 928.7h43.5" stroke="#1f77b4" stroke-width="4.4"/>
<text x="671.3" y="935.4" font-size="18.80" textLength="159.4" lengthAdjust="spacingAndGlyphs" fill="#000">Pres.[min=1001]</text>
<polyline points="131.3,1636.3 169.4,1636.3 207.5,1636.3 245.6,1636.3 283.7,1636.3 321.8,1636.3 359.9,1636.3 398.0,1636.3 436.1,1636.3 474.2,1636.3 512.3,1636.3 550.4,1607.6 588.5,1560.1 626.6,1512.7 664.7,1465.2 702.8,1417.7 740.9,1370.3 779.0,1332.8 817.1,1295.2" fill="none" stroke="#008000" stroke-width="4.4" stroke-linejoin="round"/>
<rect x="108.7" y="1287.2" width="235.5" height="35.6" rx="3.5" fill="#fff" fill-opacity="0.8" stroke="#ccc" stroke-opacity="0.8" stroke-width="3"/>
<path d="M114.7 1303.7h43.5" stroke="#008000" stroke-width="4.4"/>
<text x="170.4" y="1310.4" font-size="18.80" textLength="162.7" lengthAdjust="spacingAndGlyphs" fill="#000">ACE[max=1.455]</text>
<path d="M99.6 903.6H849.6V1653.2H99.6ZM99.6 1278.1H849.6" fill="none" stroke="#000" stroke-width="2.8"/>
<text x="57.7" y="1265.5" font-size="12.65" textLength="16.1" lengthAdjust="spacingAndGlyphs" fill="#000">15</text>
<text x="57.7" y="1208.8" font-size="12.65" textLength="16.1" lengthAdjust="spacingAndGlyphs" fill="#000">20</text>
<text x="57.7" y="1152.0" font-size="12.65" textLength="16.1" lengthAdjust="spacingAndGlyphs" fill="#000">25</text>
<text x="57.7" y="1095.2" font-size="12.65" textLength="16.1" lengthAdjust="spacingAndGlyphs" fill="#000">30</text>
<text x="57.7" y="1038.5" font-size="12.65" textLength="16.1" lengthAdjust="spacingAndGlyphs" fill="#000">35</text>
<text x="57.7" y="981.8" font-size="12.65" textLength="16.1" lengthAdjust="spacingAndGlyphs" fill="#000">40</text>
<text x="57.7" y="925.0" font-size="12.65" textLength="16.1" lengthAdjust="spacingAndGlyphs" fill="#000">45</text>
<text x="875.0" y="1241.3" font-size="12.65" textLength="32.2" lengthAdjust="spacingAndGlyphs" fill="#000">1002</text>
<text x="875.0" y="1192.6" font-size="12.65" textLength="32.2" lengthAdjust="spacingAndGlyphs" fill="#000">1004</text>
<text x="875.0" y="1144.0" font-size="12.65" textLength="32.2" lengthAdjust="spacingAndGlyphs" fill="#000">1006</text>
<text x="875.0" y="1095.3" font-size="12.65" textLength="32.2" lengthAdjust="spacingAndGlyphs" fill="#000">1008</text>
<text x="875.0" y="1046.7" font-size="12.65" textLength="32.2" lengthAdjust="spacingAndGlyphs" fill="#000">1010</text>
<text x="875.0" y="998.0" font-size="12.65" textLength="32.2" lengthAdjust="spacingAndGlyphs" fill="#000">1012</text>
<text x="875.0" y="949.3" font-size="12.65" textLength="32.2" lengthAdjust="spacingAndGlyphs" fill="#000">1014</text>
<text x="53.7" y="1640.9" font-size="12.65" textLength="20.1" lengthAdjust="spacingAndGlyphs" fill="#000">0.0</text>
<text x="53.7" y="1594.0" font-size="12.65" textLength="20.1" lengthAdjust="spacingAndGlyphs" fill="#000">0.2</text>
<text x="53.7" y="1547.1" font-size="12.65" textLength="20.1" lengthAdjust="spacingAndGlyphs" fill="#000">0.4</text>
<text x="53.7" y="1500.3" font-size="12.65" textLength="20.1" lengthAdjust="spacingAndGlyphs" fill="#000">0.6</text>
<text x="53.7" y="1453.4" font-size="12.65" textLength="20.1" lengthAdjust="spacingAndGlyphs" fill="#000">0.8</text>
<text x="53.7" y="1406.5" font-size="12.65" textLength="20.1" lengthAdjust="spacingAndGlyphs" fill="#000">1.0</text>
<text x="53.7" y="1359.6" font-size="12.65" textLength="20.1" lengthAdjust="spacingAndGlyphs" fill="#000">1.2</text>
<text x="53.7" y="1312.7" font-size="12.65" textLength="20.1" lengthAdjust="spacingAndGlyphs" fill="#000">1.4</text>
<path d="M99.6 1260.9h-12.4M99.6 1204.2h-12.4M99.6 1147.4h-12.4M99.6 1090.7h-12.4M99.6 1033.9h-12.4M99.6 977.2h-12.4M99.6 920.4h-12.4M849.6 1236.7h12.4M849.6 1188.0h12.4M849.6 1139.4h12.4M849.6 1090.7h12.4M849.6 1042.1h12.4M849.6 993.4h12.4M849.6 944.7h12.4M99.6 1636.3h-12.4M99.6 1589.4h-12.4M99.6 1542.5h-12.4M99.6 1495.7h-12.4M99.6 1448.8h-12.4M99.6 1401.9h-12.4M99.6 1355.0h-12.4M99.6 1308.1h-12.4" stroke="#000" stroke-width="2.8" fill="none"/>
<text x="23.4" y="1091.5" font-size="12.65" textLength="31.8" lengthAdjust="spacingAndGlyphs" fill="#000" transform="rotate(-90 39.3 1091.5)">Wind</text>
<text x="21.9" y="1466.5" font-size="12.65" textLength="25.3" lengthAdjust="spacingAndGlyphs" fill="#000" transform="rotate(-90 34.5 1466.5)">ACE</text>
<text x="907.0" y="1092.4" font-size="12.65" textLength="54.0" lengthAdjust="spacingAndGlyphs" fill="#000" transform="rotate(-90 934.0 1092.4)">Pressure</text>
<g clip-path="url(#wmgclip)">
<rect x="974.0" y="903.5" width="750.4000000000001" height="750.0999999999999" fill="#b2b2b2"/>
<g filter="url(#wb)">
<ellipse cx="1101" cy="1567" rx="191" ry="91" fill="#858585"/>
<ellipse cx="1032" cy="1417" rx="128" ry="77" fill="#8e8e8e"/>
<ellipse cx="1420" cy="1608" rx="173" ry="50" fill="#828282"/>
<ellipse cx="1283" cy="1531" rx="77" ry="32" fill="#787878"/>
<ellipse cx="1101" cy="1581" rx="64" ry="27" fill="#727272"/>
<ellipse cx="1246" cy="1462" rx="55" ry="23" fill="#8a8a8a"/>
<ellipse cx="1055" cy="1453" rx="55" ry="23" fill="#8a8a8a"/>
<ellipse cx="1155" cy="1303" rx="64" ry="27" fill="#9c9c9c"/>
<ellipse cx="1456" cy="1166" rx="36" ry="25" fill="#8e8e8e"/>
<ellipse cx="1697" cy="1189" rx="27" ry="118" fill="#a2a2a2"/>
<ellipse cx="1533" cy="970" rx="150" ry="50" fill="#bfbfbf"/>
<ellipse cx="1420" cy="1303" rx="27" ry="137" fill="#a6a6a6"/>
<ellipse cx="1511" cy="1394" rx="91" ry="68" fill="#a8a8a8"/>
<ellipse cx="1647" cy="1599" rx="91" ry="55" fill="#9c9c9c"/>
<ellipse cx="1438" cy="1472" rx="41" ry="32" fill="#9a9a9a"/>
<ellipse cx="1675" cy="1462" rx="32" ry="55" fill="#bcbcbc"/>
<ellipse cx="1082" cy="1257" rx="164" ry="10" fill="#c8c8c8"/>
<ellipse cx="1114" cy="1349" rx="150" ry="68" fill="#8c8c8c"/>
<ellipse cx="1183" cy="1303" rx="68" ry="32" fill="#848484"/>
<ellipse cx="1037" cy="1453" rx="59" ry="27" fill="#7e7e7e"/>
<ellipse cx="1256" cy="1554" rx="46" ry="27" fill="#6e6e6e"/>
<ellipse cx="1410" cy="957" rx="105" ry="64" fill="#c6c6c6"/>
<ellipse cx="1283" cy="1267" rx="55" ry="18" fill="#c2c2c2"/>
<ellipse cx="1533" cy="1084" rx="46" ry="91" fill="#b9b9b9"/>
<ellipse cx="1374" cy="1052" rx="27" ry="91" fill="#a8a8a8"/>
</g>
<g shape-rendering="crispEdges">
<path d="M974.6 905.1L1024.9 904.4L1023.7 918.8L973.4 919.6ZM1100.8 903.3L1130.9 902.9L1129.7 917.4L1099.6 917.8ZM974.7 919.2L1167.7 916.4L1166.5 931.1L973.4 933.8ZM974.7 933.4L1167.7 930.7L1166.5 945.4L973.4 948.1ZM1005.9 947.3L1021.5 947.1L1020.3 961.8L1004.7 962.0ZM1051.7 946.6L1096.3 946.0L1095.1 960.7L1050.4 961.3ZM1036.0 961.1L1080.7 960.5L1079.5 975.2L1034.8 975.8ZM1060.6 1017.9L1120.9 1017.1L1119.6 1031.8L1059.4 1032.6ZM1028.2 1032.7L1148.8 1031.0L1147.5 1045.7L1027.0 1047.4ZM1027.1 1047.0L1147.6 1045.3L1146.4 1060.0L1025.9 1061.7ZM1056.1 1060.9L1161.0 1059.4L1159.8 1074.1L1054.9 1075.6ZM1069.5 1075.0L1174.4 1073.5L1173.2 1088.2L1068.3 1089.7ZM1082.9 1089.1L1187.8 1087.6L1186.6 1102.3L1081.7 1103.7ZM1081.8 1103.4L1186.7 1101.9L1185.5 1116.6L1080.6 1118.1ZM1095.2 1117.5L1185.6 1116.2L1184.4 1130.9L1094.0 1132.1ZM1109.7 1131.5L1199.0 1130.3L1197.8 1145.0L1108.5 1146.2ZM1108.6 1145.8L1213.5 1144.4L1212.3 1159.1L1107.4 1160.5ZM1122.0 1159.9L1211.3 1158.7L1210.0 1173.4L1120.8 1174.6Z" fill="#000000"/>
<path d="M1024.9 904.4L1100.8 903.3L1099.6 917.8L1023.7 918.8ZM1021.5 947.1L1051.7 946.6L1050.4 961.3L1020.3 961.8Z" fill="#ffffff"/>
<path d="M1130.9 902.9L1297.2 900.6L1296.0 915.0L1129.7 917.4ZM1167.7 916.4L1235.8 915.5L1234.6 930.2L1166.5 931.1ZM991.4 947.5L1005.9 947.3L1004.7 962.0L990.2 962.2ZM1096.3 946.0L1127.6 945.6L1126.3 960.3L1095.1 960.7ZM1004.8 961.6L1036.0 961.1L1034.8 975.8L1003.6 976.3ZM1080.7 960.5L1140.9 959.7L1139.7 974.4L1079.5 975.2ZM1033.8 975.5L1139.8 974.0L1138.6 988.7L1032.6 990.2ZM1031.6 989.8L1153.2 988.1L1152.0 1002.8L1030.4 1004.5ZM1030.5 1004.1L1166.6 1002.2L1165.4 1016.9L1029.2 1018.8ZM1029.3 1018.4L1060.6 1017.9L1059.4 1032.6L1028.1 1033.1ZM1120.9 1017.1L1180.0 1016.3L1178.8 1031.0L1119.6 1031.8ZM1013.7 1032.9L1028.2 1032.7L1027.0 1047.4L1012.5 1047.6ZM1148.8 1031.0L1224.7 1029.9L1223.4 1044.6L1147.5 1045.7ZM1012.6 1047.2L1027.1 1047.0L1025.9 1061.7L1011.4 1061.9ZM1147.6 1045.3L1238.0 1044.0L1236.8 1058.7L1146.4 1060.0ZM1298.3 1043.2L1312.8 1043.0L1311.6 1057.7L1297.1 1057.9ZM1011.5 1061.5L1056.1 1060.9L1054.9 1075.6L1010.3 1076.2ZM1161.0 1059.4L1311.7 1057.3L1310.5 1072.0L1159.8 1074.1ZM1010.4 1075.8L1069.5 1075.0L1068.3 1089.7L1009.2 1090.5ZM1174.4 1073.5L1310.6 1071.6L1309.4 1086.3L1173.2 1088.2ZM1009.2 1090.1L1082.9 1089.1L1081.7 1103.7L1008.0 1104.8ZM1187.8 1087.6L1295.0 1086.1L1293.8 1100.8L1186.6 1102.3ZM1007.0 1104.4L1081.8 1103.4L1080.6 1118.1L1005.8 1119.1ZM1186.7 1101.9L1279.3 1100.6L1278.1 1115.3L1185.5 1116.6ZM1020.4 1118.5L1095.2 1117.5L1094.0 1132.1L1019.2 1133.2ZM1185.6 1116.2L1277.1 1114.9L1275.9 1129.6L1184.4 1130.9ZM1033.8 1132.6L1109.7 1131.5L1108.5 1146.2L1032.6 1147.3ZM1199.0 1130.3L1261.5 1129.4L1260.3 1144.1L1197.8 1145.0ZM1062.8 1146.5L1108.6 1145.8L1107.4 1160.5L1061.6 1161.2ZM1213.5 1144.4L1259.2 1143.7L1258.0 1158.4L1212.3 1159.1ZM1076.2 1160.6L1122.0 1159.9L1120.8 1174.6L1075.0 1175.3ZM1211.3 1158.7L1243.6 1158.2L1242.4 1172.9L1210.0 1173.4ZM1090.7 1174.7L1210.1 1173.0L1208.9 1187.7L1089.5 1189.4ZM1104.1 1188.8L1149.9 1188.1L1148.7 1202.8L1102.9 1203.5Z" fill="#a3a3a3"/>
<path d="M1297.2 900.6L1311.7 900.4L1310.5 914.8L1296.0 915.0ZM1235.8 915.5L1295.0 914.7L1293.8 929.4L1234.6 930.2ZM1167.7 930.7L1249.2 929.6L1248.0 944.3L1166.5 945.4ZM974.7 947.7L991.4 947.5L990.2 962.2L973.4 962.4ZM1127.6 945.6L1172.2 945.0L1171.0 959.6L1126.3 960.3ZM990.3 961.8L1004.8 961.6L1003.6 976.3L989.1 976.5ZM1140.9 959.7L1156.6 959.5L1155.4 974.1L1139.7 974.4ZM1003.7 975.9L1033.8 975.5L1032.6 990.2L1002.5 990.6ZM1139.8 974.0L1154.3 973.8L1153.1 988.5L1138.6 988.7ZM1018.2 990.0L1031.6 989.8L1030.4 1004.5L1017.0 1004.7ZM1153.2 988.1L1167.7 987.9L1166.5 1002.6L1152.0 1002.8ZM1017.1 1004.3L1030.5 1004.1L1029.2 1018.8L1015.8 1019.0ZM1166.6 1002.2L1226.9 1001.3L1225.7 1016.0L1165.4 1016.9ZM1000.3 1018.8L1029.3 1018.4L1028.1 1033.1L999.1 1033.5ZM1180.0 1016.3L1240.3 1015.4L1239.1 1030.1L1178.8 1031.0ZM999.2 1033.1L1013.7 1032.9L1012.5 1047.6L998.0 1047.8ZM1224.7 1029.9L1254.8 1029.5L1253.6 1044.2L1223.4 1044.6ZM1283.8 1029.1L1315.1 1028.7L1313.8 1043.4L1282.6 1043.8ZM998.1 1047.4L1012.6 1047.2L1011.4 1061.9L996.9 1062.1ZM1238.0 1044.0L1298.3 1043.2L1297.1 1057.9L1236.8 1058.7ZM1312.8 1043.0L1328.4 1042.8L1327.2 1057.5L1311.6 1057.7ZM997.0 1061.7L1011.5 1061.5L1010.3 1076.2L995.8 1076.4ZM1311.7 1057.3L1327.3 1057.1L1326.1 1071.8L1310.5 1072.0ZM995.9 1076.0L1010.4 1075.8L1009.2 1090.5L994.6 1090.7ZM1310.6 1071.6L1326.2 1071.4L1325.0 1086.1L1309.4 1086.3ZM994.7 1090.3L1009.2 1090.1L1008.0 1104.8L993.5 1105.0ZM1295.0 1086.1L1324.0 1085.7L1322.8 1100.4L1293.8 1100.8ZM992.5 1104.6L1007.0 1104.4L1005.8 1119.1L991.3 1119.3ZM1279.3 1100.6L1308.4 1100.2L1307.1 1114.9L1278.1 1115.3ZM991.4 1118.9L1020.4 1118.5L1019.2 1133.2L990.2 1133.6ZM1277.1 1114.9L1291.6 1114.7L1290.4 1129.4L1275.9 1129.6ZM1004.8 1133.0L1033.8 1132.6L1032.6 1147.3L1003.6 1147.7ZM1261.5 1129.4L1276.0 1129.2L1274.8 1143.9L1260.3 1144.1ZM1018.2 1147.1L1062.8 1146.5L1061.6 1161.2L1017.0 1161.8ZM1259.2 1143.7L1273.8 1143.5L1272.5 1158.2L1258.0 1158.4ZM1017.1 1161.4L1076.2 1160.6L1075.0 1175.3L1015.8 1176.1ZM1243.6 1158.2L1257.0 1158.1L1255.8 1172.7L1242.4 1172.9ZM1030.5 1175.5L1090.7 1174.7L1089.5 1189.4L1029.2 1190.2ZM1210.1 1173.0L1241.4 1172.6L1240.2 1187.2L1208.9 1187.7ZM1058.4 1189.4L1104.1 1188.8L1102.9 1203.5L1057.1 1204.1ZM1149.9 1188.1L1209.0 1187.3L1207.8 1202.0L1148.7 1202.8ZM1087.4 1203.3L1163.3 1202.2L1162.1 1216.9L1086.2 1218.0ZM1116.4 1217.2L1146.5 1216.7L1145.3 1231.4L1115.2 1231.9ZM1281.6 1214.9L1311.7 1214.4L1310.5 1229.1L1280.4 1229.5ZM1250.3 1229.6L1341.8 1228.3L1340.6 1243.0L1249.1 1244.3Z" fill="#6e6e6e"/>
<path d="M1311.7 900.4L1327.3 900.2L1326.1 914.6L1310.5 914.8ZM1295.0 914.7L1310.6 914.4L1309.4 929.1L1293.8 929.4ZM1249.2 929.6L1295.0 929.0L1293.8 943.6L1248.0 944.3ZM1172.2 945.0L1247.0 943.9L1245.8 958.6L1171.0 959.6ZM974.7 962.0L990.3 961.8L989.1 976.5L973.4 976.7ZM1156.6 959.5L1171.1 959.3L1169.9 973.9L1155.4 974.1ZM1216.8 958.6L1230.2 958.4L1229.0 973.1L1215.6 973.3ZM989.2 976.1L1003.7 975.9L1002.5 990.6L987.9 990.8ZM1154.3 973.8L1168.8 973.6L1167.6 988.3L1153.1 988.5ZM1214.6 972.9L1229.1 972.7L1227.9 987.4L1213.4 987.6ZM974.7 990.6L1018.2 990.0L1017.0 1004.7L973.4 1005.3ZM1167.7 987.9L1241.4 986.8L1240.2 1001.5L1166.5 1002.6ZM1303.9 986.0L1319.5 985.8L1318.3 1000.4L1302.7 1000.7ZM974.7 1004.9L1017.1 1004.3L1015.8 1019.0L973.4 1019.6ZM1226.9 1001.3L1241.4 1001.1L1240.2 1015.8L1225.7 1016.0ZM1288.3 1000.5L1318.4 1000.1L1317.2 1014.7L1287.1 1015.2ZM974.7 1019.2L1000.3 1018.8L999.1 1033.5L973.4 1033.8ZM1240.3 1015.4L1254.8 1015.2L1253.6 1029.9L1239.1 1030.1ZM1270.4 1015.0L1316.2 1014.4L1315.0 1029.1L1269.2 1029.7ZM974.7 1033.4L999.2 1033.1L998.0 1047.8L973.4 1048.1ZM1254.8 1029.5L1283.8 1029.1L1282.6 1043.8L1253.6 1044.2ZM1315.1 1028.7L1329.6 1028.5L1328.3 1043.2L1313.8 1043.4ZM974.7 1047.7L998.1 1047.4L996.9 1062.1L973.4 1062.4ZM1328.4 1042.8L1343.0 1042.6L1341.7 1057.3L1327.2 1057.5ZM974.7 1062.0L997.0 1061.7L995.8 1076.4L973.4 1076.7ZM1327.3 1057.1L1341.8 1056.9L1340.6 1071.6L1326.1 1071.8ZM974.7 1076.3L995.9 1076.0L994.6 1090.7L973.4 1091.0ZM1326.2 1071.4L1340.7 1071.2L1339.5 1085.9L1325.0 1086.1ZM974.7 1090.6L994.7 1090.3L993.5 1105.0L973.4 1105.3ZM1324.0 1085.7L1339.6 1085.5L1338.4 1100.2L1322.8 1100.4ZM974.7 1104.9L992.5 1104.6L991.3 1119.3L973.4 1119.6ZM1308.4 1100.2L1322.9 1100.0L1321.7 1114.7L1307.1 1114.9ZM974.7 1119.2L991.4 1118.9L990.2 1133.6L973.4 1133.8ZM1291.6 1114.7L1336.3 1114.1L1335.0 1128.8L1290.4 1129.4ZM974.7 1133.4L1004.8 1133.0L1003.6 1147.7L973.4 1148.1ZM1276.0 1129.2L1290.5 1129.0L1289.3 1143.7L1274.8 1143.9ZM974.7 1147.7L1018.2 1147.1L1017.0 1161.8L973.4 1162.4ZM974.7 1162.0L1017.1 1161.4L1015.8 1176.1L973.4 1176.7ZM1257.0 1158.1L1272.6 1157.8L1271.4 1172.5L1255.8 1172.7ZM985.8 1176.1L1030.5 1175.5L1029.2 1190.2L984.6 1190.8ZM1241.4 1172.6L1255.9 1172.4L1254.7 1187.0L1240.2 1187.2ZM1270.4 1172.2L1286.0 1171.9L1284.8 1186.6L1269.2 1186.8ZM999.2 1190.2L1058.4 1189.4L1057.1 1204.1L998.0 1204.9ZM1209.0 1187.3L1254.8 1186.7L1253.6 1201.3L1207.8 1202.0ZM1269.3 1186.5L1299.4 1186.0L1298.2 1200.7L1268.1 1201.1ZM1042.7 1203.9L1087.4 1203.3L1086.2 1218.0L1041.5 1218.6ZM1163.3 1202.2L1207.9 1201.6L1206.7 1216.3L1162.1 1216.9ZM1223.5 1201.4L1238.0 1201.2L1236.8 1215.9L1222.3 1216.1ZM1253.7 1201.0L1312.8 1200.1L1311.6 1214.8L1252.5 1215.6ZM1041.6 1218.2L1116.4 1217.2L1115.2 1231.9L1040.4 1232.9ZM1146.5 1216.7L1192.3 1216.1L1191.1 1230.8L1145.3 1231.4ZM1251.4 1215.3L1281.6 1214.9L1280.4 1229.5L1250.2 1230.0ZM1311.7 1214.4L1327.3 1214.2L1326.1 1228.9L1310.5 1229.1ZM1069.5 1232.1L1085.1 1231.9L1083.9 1246.6L1068.3 1246.8ZM1099.7 1231.7L1161.0 1230.8L1159.8 1245.5L1098.4 1246.4ZM1235.8 1229.8L1250.3 1229.6L1249.1 1244.3L1234.6 1244.5Z" fill="#3b3b3b"/>
<path d="M1327.3 900.2L1344.1 899.9L1342.9 914.4L1326.1 914.6ZM1310.6 914.4L1341.8 914.0L1340.6 928.7L1309.4 929.1ZM1295.0 929.0L1339.6 928.3L1338.4 943.0L1293.8 943.6ZM1247.0 943.9L1337.4 942.6L1336.2 957.3L1245.8 958.6ZM1171.1 959.3L1216.8 958.6L1215.6 973.3L1169.9 973.9ZM1230.2 958.4L1321.8 957.1L1320.5 971.8L1229.0 973.1ZM974.7 976.3L989.2 976.1L987.9 990.8L973.4 991.0ZM1168.8 973.6L1214.6 972.9L1213.4 987.6L1167.6 988.3ZM1229.1 972.7L1312.8 971.6L1311.6 986.2L1227.9 987.4ZM1241.4 986.8L1303.9 986.0L1302.7 1000.7L1240.2 1001.5ZM1241.4 1001.1L1288.3 1000.5L1287.1 1015.2L1240.2 1015.8ZM1254.8 1015.2L1270.4 1015.0L1269.2 1029.7L1253.6 1029.9ZM1322.9 1100.0L1337.4 1099.8L1336.2 1114.5L1321.7 1114.7ZM1290.5 1129.0L1332.9 1128.4L1331.7 1143.1L1289.3 1143.7ZM1273.8 1143.5L1288.3 1143.3L1287.1 1158.0L1272.5 1158.2ZM1272.6 1157.8L1287.2 1157.6L1285.9 1172.3L1271.4 1172.5ZM974.7 1176.3L985.8 1176.1L984.6 1190.8L973.4 1191.0ZM1255.9 1172.4L1270.4 1172.2L1269.2 1186.8L1254.7 1187.0ZM1286.0 1171.9L1299.4 1171.7L1298.2 1186.4L1284.8 1186.6ZM974.7 1190.6L999.2 1190.2L998.0 1204.9L973.4 1205.3ZM1254.8 1186.7L1269.3 1186.5L1268.1 1201.1L1253.6 1201.3ZM1299.4 1186.0L1315.1 1185.8L1313.8 1200.5L1298.2 1200.7ZM974.7 1204.9L1042.7 1203.9L1041.5 1218.6L973.4 1219.6ZM1207.9 1201.6L1223.5 1201.4L1222.3 1216.1L1206.7 1216.3ZM1238.0 1201.2L1253.7 1201.0L1252.5 1215.6L1236.8 1215.9ZM1312.8 1200.1L1328.4 1199.9L1327.2 1214.6L1311.6 1214.8ZM974.7 1219.2L1041.6 1218.2L1040.4 1232.9L973.4 1233.8ZM1192.3 1216.1L1251.4 1215.3L1250.2 1230.0L1191.1 1230.8ZM1327.3 1214.2L1341.8 1214.0L1340.6 1228.7L1326.1 1228.9ZM974.7 1233.4L1069.5 1232.1L1068.3 1246.8L973.4 1248.1ZM1085.1 1231.9L1099.7 1231.7L1098.4 1246.4L1083.9 1246.6ZM1161.0 1230.8L1235.8 1229.8L1234.6 1244.5L1159.8 1245.5ZM1341.8 1228.3L1355.2 1228.1L1354.0 1242.8L1340.6 1243.0ZM1052.6 1246.6L1234.7 1244.1L1233.5 1258.8L1051.3 1261.3Z" fill="#c6c6c6"/>
<path d="M1234.9 1244.4L1249.4 1244.2L1248.2 1259.1L1233.7 1259.3ZM1248.3 1258.7L1262.8 1258.5L1261.6 1272.3L1247.1 1272.5ZM1383.3 1256.8L1397.8 1256.6L1396.7 1270.4L1382.2 1270.6ZM1247.2 1272.1L1261.7 1271.9L1260.5 1286.8L1246.0 1287.0ZM1394.5 1299.1L1409.0 1298.9L1407.8 1313.8L1393.3 1314.0ZM1242.7 1315.7L1257.3 1315.5L1256.0 1330.4L1241.5 1330.6ZM1394.1 1313.6L1408.6 1313.4L1407.4 1328.3L1392.8 1328.5ZM1282.9 1372.1L1297.4 1371.9L1296.2 1386.8L1281.7 1387.0ZM1372.2 1370.8L1387.8 1370.6L1386.6 1385.5L1371.0 1385.7ZM1311.9 1386.2L1341.0 1385.8L1339.7 1400.7L1310.7 1401.1Z" fill="#3b3b3b"/>
<path d="M1249.4 1244.2L1370.0 1242.5L1368.7 1257.4L1248.2 1259.1ZM1262.8 1258.5L1323.1 1257.7L1321.9 1271.4L1261.6 1272.3ZM1261.7 1271.9L1291.8 1271.5L1290.6 1286.4L1260.5 1286.8ZM1382.3 1270.2L1396.8 1270.0L1395.5 1284.9L1381.0 1285.1ZM1246.1 1286.6L1275.1 1286.2L1273.9 1301.1L1244.9 1301.5ZM1381.1 1284.7L1395.6 1284.5L1394.4 1299.5L1379.9 1299.7ZM1243.9 1301.2L1259.5 1301.0L1258.2 1315.9L1242.6 1316.1ZM1380.0 1299.3L1394.5 1299.1L1393.3 1314.0L1378.8 1314.2ZM1256.1 1330.0L1270.6 1329.8L1269.4 1344.7L1254.9 1344.9ZM1376.7 1328.3L1392.3 1328.1L1391.1 1343.0L1375.4 1343.2ZM1255.0 1344.5L1269.5 1344.3L1268.3 1359.3L1253.8 1359.5ZM1375.6 1342.9L1390.1 1342.7L1388.8 1357.6L1374.3 1357.8ZM1268.4 1358.9L1282.9 1358.7L1281.7 1372.5L1267.2 1372.7ZM1374.4 1357.4L1388.9 1357.2L1387.8 1371.0L1373.3 1371.2ZM1297.4 1371.9L1372.2 1370.8L1371.0 1385.7L1296.2 1386.8Z" fill="#6e6e6e"/>
<path d="M1370.0 1242.5L1385.6 1242.3L1384.4 1257.2L1368.7 1257.4ZM1241.6 1330.2L1256.1 1330.0L1254.9 1344.9L1240.4 1345.1ZM1392.3 1328.1L1406.8 1327.9L1405.6 1342.8L1391.1 1343.0ZM1253.9 1359.1L1268.4 1358.9L1267.2 1372.7L1252.7 1372.9ZM1268.4 1372.3L1282.9 1372.1L1281.7 1387.0L1267.2 1387.2ZM1296.3 1386.4L1311.9 1386.2L1310.7 1401.1L1295.1 1401.3ZM1341.0 1385.8L1385.6 1385.1L1384.4 1400.0L1339.7 1400.7Z" fill="#c6c6c6"/>
<path d="M1323.1 1257.7L1383.3 1256.8L1382.2 1270.6L1321.9 1271.4ZM1291.8 1271.5L1382.3 1270.2L1381.0 1285.1L1290.6 1286.4ZM1275.1 1286.2L1381.1 1284.7L1379.9 1299.7L1273.9 1301.1ZM1259.5 1301.0L1380.0 1299.3L1378.8 1314.2L1258.2 1315.9ZM1257.3 1315.5L1394.1 1313.6L1392.8 1328.5L1256.0 1330.4ZM1270.6 1329.8L1376.7 1328.3L1375.4 1343.2L1269.4 1344.7ZM1269.5 1344.3L1375.6 1342.9L1374.3 1357.8L1268.3 1359.3ZM1282.9 1358.7L1374.4 1357.4L1373.3 1371.2L1281.7 1372.5Z" fill="#a3a3a3"/>
<path d="M1387.0 905.5L1493.0 904.0L1492.0 916.7L1385.9 918.2ZM1644.8 901.9L1724.0 900.8L1723.0 913.4L1643.7 914.5ZM1387.0 917.8L1416.0 917.3L1415.0 930.0L1385.9 930.4ZM1461.8 916.7L1491.9 916.3L1490.8 929.0L1460.7 929.4ZM1613.5 914.6L1629.2 914.4L1628.1 927.0L1612.5 927.3ZM1643.7 914.2L1724.0 913.0L1723.0 925.7L1642.6 926.8ZM1460.7 929.0L1490.8 928.6L1489.7 942.4L1459.5 942.8ZM1552.2 927.7L1566.7 927.5L1565.6 941.3L1551.1 941.5ZM1612.5 926.9L1724.1 925.3L1722.9 939.1L1611.3 940.7ZM1475.2 942.2L1489.7 942.0L1488.6 955.8L1474.1 956.0ZM1611.4 940.3L1724.1 938.7L1722.9 952.5L1610.2 954.1ZM1624.7 953.5L1700.6 952.4L1699.5 966.2L1623.6 967.3ZM1638.2 966.7L1668.3 966.3L1667.1 981.2L1637.0 981.6ZM1651.5 981.0L1681.7 980.6L1680.5 994.4L1650.4 994.8Z" fill="#3b3b3b"/>
<path d="M1416.0 917.3L1461.8 916.7L1460.7 929.4L1415.0 930.0ZM1629.2 914.4L1643.7 914.2L1642.6 926.8L1628.1 927.0ZM1700.6 952.4L1724.1 952.1L1722.9 965.9L1699.5 966.2ZM1668.3 966.3L1682.8 966.1L1681.6 981.0L1667.1 981.2Z" fill="#c6c6c6"/>
<path d="M1630.5 1357.0L1721.7 1355.7L1720.5 1370.3L1629.3 1371.6ZM1674.0 1370.6L1705.8 1370.1L1704.7 1383.9L1672.8 1384.4ZM1657.3 1384.2L1674.1 1384.0L1672.8 1399.5L1656.0 1399.7ZM1625.5 1399.7L1656.5 1399.3L1655.2 1414.8L1624.2 1415.2ZM1610.4 1415.0L1625.5 1414.8L1624.3 1429.4L1609.2 1429.6ZM1640.5 1414.6L1655.6 1414.4L1654.4 1429.0L1639.3 1429.2ZM1608.7 1429.3L1623.8 1429.1L1622.6 1443.7L1607.5 1443.9ZM1622.1 1457.5L1637.2 1457.3L1636.0 1472.0L1620.9 1472.2ZM1710.0 1470.5L1725.0 1470.3L1723.9 1484.1L1708.8 1484.3ZM1633.9 1485.0L1648.9 1484.8L1647.7 1500.3L1632.6 1500.5ZM1647.2 1499.9L1663.1 1499.7L1661.9 1514.3L1646.0 1514.5ZM1661.5 1513.9L1676.5 1513.7L1675.3 1528.3L1660.2 1528.5ZM1675.7 1527.9L1689.9 1527.7L1688.7 1542.4L1674.5 1542.6ZM1689.1 1542.0L1719.2 1541.6L1718.0 1556.2L1687.9 1556.6Z" fill="#c6c6c6"/>
<path d="M1705.8 1370.1L1720.0 1369.9L1718.9 1383.7L1704.7 1383.9ZM1674.1 1384.0L1725.1 1383.3L1723.8 1398.7L1672.8 1399.5ZM1656.5 1399.3L1725.1 1398.3L1723.8 1413.8L1655.2 1414.8ZM1625.5 1414.8L1640.5 1414.6L1639.3 1429.2L1624.3 1429.4ZM1655.6 1414.4L1725.1 1413.4L1723.9 1428.0L1654.4 1429.0ZM1623.8 1429.1L1700.0 1428.0L1698.8 1442.6L1622.6 1443.7ZM1623.0 1443.3L1712.5 1442.0L1711.3 1456.7L1621.7 1457.9ZM1651.4 1457.1L1725.1 1456.1L1723.9 1470.7L1650.2 1471.8ZM1635.5 1471.6L1710.0 1470.5L1708.8 1484.3L1634.3 1485.4ZM1648.9 1484.8L1679.1 1484.4L1677.8 1499.8L1647.7 1500.3ZM1709.2 1483.9L1725.1 1483.7L1723.8 1499.2L1707.9 1499.4ZM1663.1 1499.7L1693.3 1499.2L1692.1 1513.9L1661.9 1514.3ZM1707.5 1499.0L1725.1 1498.8L1723.9 1513.4L1706.3 1513.7ZM1676.5 1513.7L1723.4 1513.0L1722.2 1527.7L1675.3 1528.3ZM1689.9 1527.7L1721.2 1527.3L1720.0 1541.9L1688.7 1542.4Z" fill="#3b3b3b"/>
<path d="M1700.0 1428.0L1725.1 1427.6L1723.9 1442.3L1698.8 1442.6ZM1712.5 1442.0L1725.1 1441.9L1723.9 1456.5L1711.3 1456.7ZM1637.2 1457.3L1651.4 1457.1L1650.2 1471.8L1636.0 1472.0ZM1679.1 1484.4L1709.2 1483.9L1707.9 1499.4L1677.8 1499.8ZM1693.3 1499.2L1707.5 1499.0L1706.3 1513.7L1692.1 1513.9Z" fill="#6e6e6e"/>
<rect x="1125" y="1620.5" width="14.3" height="14" fill="#fafafa"/>
</g>
<polygon points="1726,1350 1726,1660 1708,1660 1712,1640 1722,1358" fill="#fff"/>
<polygon points="974,1654 974,1652.6 1713,1640 1726,1640 1726,1656" fill="#fff"/>
<polygon points="974,903 980.5,903 976.3,947 974,947" fill="#fff"/>
</g>
<rect x="987" y="917" width="180" height="31.4" rx="4" fill="#000"/>
<text x="993.8" y="938.8" font-size="20.70" textLength="166.3" lengthAdjust="spacingAndGlyphs" fill="#fff" font-weight="bold">WMG Count: 2</text>
<rect x="974.0" y="903.5" width="750.4000000000001" height="750.0999999999999" fill="none" stroke="#000" stroke-width="2.5"/>
</svg>
</body></html>
